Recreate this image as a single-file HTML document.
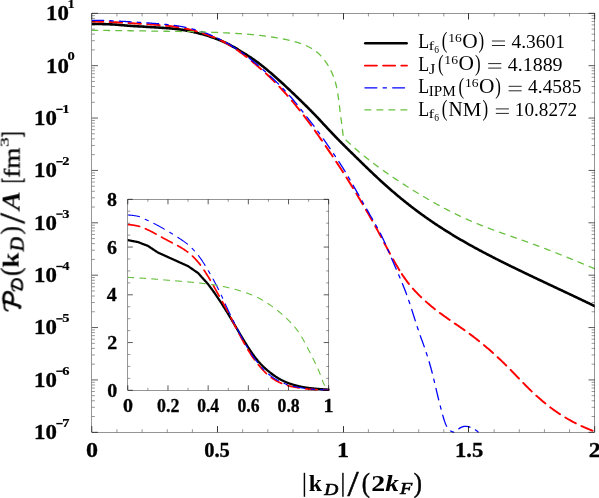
<!DOCTYPE html>
<html><head><meta charset="utf-8"><title>plot</title>
<style>html,body{margin:0;padding:0;background:#fff;}body{width:599px;height:498px;overflow:hidden;font-family:"Liberation Serif",serif;}svg{display:block;}</style>
</head><body>
<svg width="599" height="498" viewBox="0 0 599 498" font-family="Liberation Serif, serif">
<defs>
<clipPath id="cm"><rect x="91.8" y="13.3" width="502.90000000000003" height="419.6"/></clipPath>
<clipPath id="ci"><rect x="127.8" y="197.3" width="201.89999999999998" height="194.5"/></clipPath>
</defs>
<rect width="599" height="498" fill="#fff"/>
<g opacity="0.999">
<g clip-path="url(#cm)" fill="none" stroke-linejoin="round" stroke-linecap="round">
<path d="M91.80,23.85 L92.64,23.87 L93.48,23.89 L94.32,23.91 L95.16,23.92 L96.00,23.94 L96.84,23.96 L97.68,23.98 L98.52,24.00 L99.36,24.01 L100.20,24.03 L101.04,24.05 L101.87,24.07 L102.71,24.09 L103.55,24.11 L104.39,24.14 L105.23,24.16 L106.07,24.19 L106.91,24.22 L107.75,24.24 L108.59,24.28 L109.43,24.31 L110.27,24.35 L111.11,24.38 L111.95,24.42 L112.79,24.47 L113.63,24.51 L114.47,24.56 L115.31,24.62 L116.15,24.67 L116.99,24.73 L117.83,24.80 L118.67,24.86 L119.51,24.93 L120.35,25.01 L121.18,25.08 L122.02,25.15 L122.86,25.23 L123.70,25.31 L124.54,25.38 L125.38,25.46 L126.22,25.53 L127.06,25.61 L127.90,25.68 L128.74,25.75 L129.58,25.81 L130.42,25.88 L131.26,25.94 L132.10,25.99 L132.94,26.05 L133.78,26.10 L134.62,26.15 L135.46,26.20 L136.30,26.25 L137.14,26.29 L137.98,26.34 L138.82,26.39 L139.66,26.43 L140.49,26.48 L141.33,26.53 L142.17,26.57 L143.01,26.62 L143.85,26.67 L144.69,26.73 L145.53,26.78 L146.37,26.83 L147.21,26.88 L148.05,26.94 L148.89,26.99 L149.73,27.04 L150.57,27.10 L151.41,27.15 L152.25,27.21 L153.09,27.26 L153.93,27.31 L154.77,27.36 L155.61,27.42 L156.45,27.47 L157.29,27.52 L158.13,27.57 L158.97,27.62 L159.80,27.67 L160.64,27.73 L161.48,27.78 L162.32,27.83 L163.16,27.89 L164.00,27.94 L164.84,28.00 L165.68,28.06 L166.52,28.12 L167.36,28.18 L168.20,28.25 L169.04,28.32 L169.88,28.39 L170.72,28.46 L171.56,28.54 L172.40,28.61 L173.24,28.70 L174.08,28.78 L174.92,28.87 L175.76,28.97 L176.60,29.06 L177.44,29.17 L178.28,29.27 L179.11,29.38 L179.95,29.50 L180.79,29.62 L181.63,29.75 L182.47,29.88 L183.31,30.01 L184.15,30.15 L184.99,30.30 L185.83,30.45 L186.67,30.60 L187.51,30.76 L188.35,30.93 L189.19,31.09 L190.03,31.26 L190.87,31.44 L191.71,31.62 L192.55,31.81 L193.39,31.99 L194.23,32.19 L195.07,32.38 L195.91,32.58 L196.75,32.79 L197.59,33.00 L198.42,33.21 L199.26,33.43 L200.10,33.65 L200.94,33.87 L201.78,34.10 L202.62,34.34 L203.46,34.58 L204.30,34.82 L205.14,35.07 L205.98,35.32 L206.82,35.58 L207.66,35.84 L208.50,36.10 L209.34,36.37 L210.18,36.65 L211.02,36.93 L211.86,37.21 L212.70,37.50 L213.54,37.80 L214.38,38.10 L215.22,38.41 L216.06,38.73 L216.90,39.05 L217.73,39.37 L218.57,39.70 L219.41,40.04 L220.25,40.39 L221.09,40.74 L221.93,41.10 L222.77,41.47 L223.61,41.84 L224.45,42.22 L225.29,42.61 L226.13,43.01 L226.97,43.42 L227.81,43.84 L228.65,44.26 L229.49,44.70 L230.33,45.14 L231.17,45.59 L232.01,46.05 L232.85,46.52 L233.69,47.00 L234.53,47.48 L235.37,47.97 L236.21,48.47 L237.04,48.97 L237.88,49.48 L238.72,49.99 L239.56,50.50 L240.40,51.02 L241.24,51.54 L242.08,52.06 L242.92,52.58 L243.76,53.10 L244.60,53.62 L245.44,54.15 L246.28,54.68 L247.12,55.21 L247.96,55.74 L248.80,56.28 L249.64,56.83 L250.48,57.38 L251.32,57.93 L252.16,58.50 L253.00,59.07 L253.84,59.64 L254.68,60.23 L255.52,60.83 L256.35,61.43 L257.19,62.05 L258.03,62.67 L258.87,63.30 L259.71,63.94 L260.55,64.59 L261.39,65.24 L262.23,65.90 L263.07,66.57 L263.91,67.25 L264.75,67.93 L265.59,68.62 L266.43,69.31 L267.27,70.01 L268.11,70.71 L268.95,71.42 L269.79,72.13 L270.63,72.84 L271.47,73.56 L272.31,74.29 L273.15,75.02 L273.99,75.75 L274.83,76.48 L275.66,77.22 L276.50,77.97 L277.34,78.71 L278.18,79.47 L279.02,80.22 L279.86,80.98 L280.70,81.74 L281.54,82.50 L282.38,83.27 L283.22,84.04 L284.06,84.82 L284.90,85.59 L285.74,86.37 L286.58,87.16 L287.42,87.94 L288.26,88.73 L289.10,89.52 L289.94,90.31 L290.78,91.10 L291.62,91.89 L292.46,92.69 L293.30,93.49 L294.14,94.29 L294.97,95.09 L295.81,95.89 L296.65,96.70 L297.49,97.51 L298.33,98.32 L299.17,99.13 L300.01,99.94 L300.85,100.76 L301.69,101.57 L302.53,102.40 L303.37,103.22 L304.21,104.05 L305.05,104.88 L305.89,105.71 L306.73,106.54 L307.57,107.38 L308.41,108.22 L309.25,109.07 L310.09,109.92 L310.93,110.77 L311.77,111.63 L312.61,112.48 L313.45,113.35 L314.28,114.22 L315.12,115.09 L315.96,115.96 L316.80,116.84 L317.64,117.73 L318.48,118.62 L319.32,119.51 L320.16,120.41 L321.00,121.31 L321.84,122.21 L322.68,123.11 L323.52,124.02 L324.36,124.92 L325.20,125.83 L326.04,126.73 L326.88,127.64 L327.72,128.54 L328.56,129.44 L329.40,130.34 L330.24,131.23 L331.08,132.12 L331.92,133.01 L332.76,133.89 L333.59,134.76 L334.43,135.63 L335.27,136.50 L336.11,137.37 L336.95,138.23 L337.79,139.09 L338.63,139.94 L339.47,140.79 L340.31,141.64 L341.15,142.49 L341.99,143.33 L342.83,144.17 L343.67,145.01 L344.51,145.84 L345.35,146.68 L346.19,147.51 L347.03,148.34 L347.87,149.17 L348.71,149.99 L349.55,150.82 L350.39,151.64 L351.23,152.47 L352.07,153.29 L352.91,154.11 L353.74,154.93 L354.58,155.76 L355.42,156.58 L356.26,157.40 L357.10,158.22 L357.94,159.04 L358.78,159.86 L359.62,160.68 L360.46,161.50 L361.30,162.32 L362.14,163.13 L362.98,163.95 L363.82,164.77 L364.66,165.58 L365.50,166.40 L366.34,167.21 L367.18,168.02 L368.02,168.83 L368.86,169.64 L369.70,170.44 L370.54,171.25 L371.38,172.05 L372.22,172.85 L373.05,173.65 L373.89,174.44 L374.73,175.23 L375.57,176.02 L376.41,176.81 L377.25,177.60 L378.09,178.38 L378.93,179.16 L379.77,179.93 L380.61,180.70 L381.45,181.47 L382.29,182.24 L383.13,183.00 L383.97,183.76 L384.81,184.52 L385.65,185.27 L386.49,186.02 L387.33,186.76 L388.17,187.50 L389.01,188.24 L389.85,188.98 L390.69,189.71 L391.53,190.44 L392.36,191.16 L393.20,191.88 L394.04,192.60 L394.88,193.31 L395.72,194.03 L396.56,194.73 L397.40,195.44 L398.24,196.14 L399.08,196.84 L399.92,197.53 L400.76,198.22 L401.60,198.91 L402.44,199.60 L403.28,200.28 L404.12,200.96 L404.96,201.63 L405.80,202.30 L406.64,202.97 L407.48,203.64 L408.32,204.30 L409.16,204.96 L410.00,205.61 L410.84,206.26 L411.67,206.91 L412.51,207.56 L413.35,208.20 L414.19,208.84 L415.03,209.48 L415.87,210.11 L416.71,210.74 L417.55,211.36 L418.39,211.99 L419.23,212.61 L420.07,213.22 L420.91,213.84 L421.75,214.45 L422.59,215.05 L423.43,215.66 L424.27,216.26 L425.11,216.85 L425.95,217.45 L426.79,218.04 L427.63,218.63 L428.47,219.22 L429.31,219.80 L430.15,220.38 L430.98,220.96 L431.82,221.53 L432.66,222.10 L433.50,222.67 L434.34,223.23 L435.18,223.80 L436.02,224.36 L436.86,224.92 L437.70,225.47 L438.54,226.02 L439.38,226.57 L440.22,227.12 L441.06,227.66 L441.90,228.20 L442.74,228.74 L443.58,229.28 L444.42,229.81 L445.26,230.35 L446.10,230.87 L446.94,231.40 L447.78,231.93 L448.62,232.45 L449.46,232.97 L450.29,233.48 L451.13,234.00 L451.97,234.51 L452.81,235.02 L453.65,235.53 L454.49,236.04 L455.33,236.54 L456.17,237.04 L457.01,237.54 L457.85,238.04 L458.69,238.53 L459.53,239.03 L460.37,239.52 L461.21,240.01 L462.05,240.49 L462.89,240.98 L463.73,241.46 L464.57,241.94 L465.41,242.42 L466.25,242.90 L467.09,243.37 L467.93,243.85 L468.77,244.32 L469.60,244.79 L470.44,245.26 L471.28,245.72 L472.12,246.19 L472.96,246.65 L473.80,247.11 L474.64,247.57 L475.48,248.03 L476.32,248.49 L477.16,248.94 L478.00,249.40 L478.84,249.85 L479.68,250.30 L480.52,250.75 L481.36,251.20 L482.20,251.64 L483.04,252.09 L483.88,252.53 L484.72,252.97 L485.56,253.42 L486.40,253.85 L487.24,254.29 L488.08,254.73 L488.91,255.17 L489.75,255.60 L490.59,256.03 L491.43,256.47 L492.27,256.90 L493.11,257.33 L493.95,257.76 L494.79,258.18 L495.63,258.61 L496.47,259.04 L497.31,259.46 L498.15,259.88 L498.99,260.31 L499.83,260.73 L500.67,261.15 L501.51,261.57 L502.35,261.99 L503.19,262.41 L504.03,262.83 L504.87,263.24 L505.71,263.66 L506.55,264.08 L507.39,264.49 L508.22,264.90 L509.06,265.32 L509.90,265.73 L510.74,266.14 L511.58,266.55 L512.42,266.97 L513.26,267.38 L514.10,267.79 L514.94,268.19 L515.78,268.60 L516.62,269.01 L517.46,269.42 L518.30,269.82 L519.14,270.23 L519.98,270.64 L520.82,271.04 L521.66,271.45 L522.50,271.85 L523.34,272.25 L524.18,272.66 L525.02,273.06 L525.86,273.46 L526.70,273.87 L527.53,274.27 L528.37,274.67 L529.21,275.07 L530.05,275.47 L530.89,275.87 L531.73,276.27 L532.57,276.67 L533.41,277.07 L534.25,277.47 L535.09,277.87 L535.93,278.26 L536.77,278.66 L537.61,279.06 L538.45,279.46 L539.29,279.85 L540.13,280.25 L540.97,280.65 L541.81,281.04 L542.65,281.44 L543.49,281.84 L544.33,282.23 L545.17,282.63 L546.01,283.02 L546.84,283.42 L547.68,283.82 L548.52,284.21 L549.36,284.61 L550.20,285.00 L551.04,285.40 L551.88,285.79 L552.72,286.19 L553.56,286.58 L554.40,286.98 L555.24,287.37 L556.08,287.77 L556.92,288.16 L557.76,288.56 L558.60,288.95 L559.44,289.35 L560.28,289.74 L561.12,290.14 L561.96,290.53 L562.80,290.93 L563.64,291.32 L564.48,291.72 L565.32,292.11 L566.15,292.51 L566.99,292.90 L567.83,293.30 L568.67,293.70 L569.51,294.09 L570.35,294.49 L571.19,294.89 L572.03,295.28 L572.87,295.68 L573.71,296.08 L574.55,296.48 L575.39,296.88 L576.23,297.27 L577.07,297.67 L577.91,298.07 L578.75,298.47 L579.59,298.87 L580.43,299.27 L581.27,299.67 L582.11,300.07 L582.95,300.47 L583.79,300.87 L584.63,301.28 L585.46,301.68 L586.30,302.08 L587.14,302.48 L587.98,302.89 L588.82,303.29 L589.66,303.70 L590.50,304.10 L591.34,304.51 L592.18,304.91 L593.02,305.32 L593.86,305.73 L594.70,306.14" stroke="#000" stroke-width="2.6"/>
<path d="M91.80,21.61 L92.64,21.61 L93.48,21.61 L94.32,21.62 L95.16,21.62 L96.00,21.63 L96.84,21.64 L97.68,21.65 L98.52,21.67 L99.36,21.68 L100.20,21.70 L101.04,21.72 L101.87,21.74 L102.71,21.76 L103.55,21.78 L104.39,21.81 L105.23,21.83 L106.07,21.86 L106.91,21.89 L107.75,21.92 L108.59,21.95 L109.43,21.99 L110.27,22.02 L111.11,22.06 L111.95,22.10 L112.79,22.13 L113.63,22.17 L114.47,22.21 L115.31,22.26 L116.15,22.30 L116.99,22.34 L117.83,22.39 L118.67,22.44 L119.51,22.48 L120.35,22.53 L121.18,22.58 L122.02,22.63 L122.86,22.68 L123.70,22.73 L124.54,22.78 L125.38,22.83 L126.22,22.89 L127.06,22.94 L127.90,22.99 L128.74,23.05 L129.58,23.10 L130.42,23.16 L131.26,23.21 L132.10,23.27 L132.94,23.32 L133.78,23.38 L134.62,23.43 L135.46,23.49 L136.30,23.54 L137.14,23.60 L137.98,23.65 L138.82,23.71 L139.66,23.76 L140.49,23.82 L141.33,23.87 L142.17,23.92 L143.01,23.98 L143.85,24.03 L144.69,24.08 L145.53,24.14 L146.37,24.19 L147.21,24.24 L148.05,24.30 L148.89,24.35 L149.73,24.40 L150.57,24.46 L151.41,24.51 L152.25,24.57 L153.09,24.62 L153.93,24.68 L154.77,24.74 L155.61,24.80 L156.45,24.86 L157.29,24.92 L158.13,24.98 L158.97,25.04 L159.80,25.11 L160.64,25.17 L161.48,25.24 L162.32,25.31 L163.16,25.39 L164.00,25.46 L164.84,25.54 L165.68,25.62 L166.52,25.70 L167.36,25.78 L168.20,25.87 L169.04,25.96 L169.88,26.05 L170.72,26.15 L171.56,26.25 L172.40,26.35 L173.24,26.46 L174.08,26.57 L174.92,26.68 L175.76,26.80 L176.60,26.93 L177.44,27.06 L178.28,27.19 L179.11,27.33 L179.95,27.47 L180.79,27.62 L181.63,27.77 L182.47,27.93 L183.31,28.09 L184.15,28.26 L184.99,28.43 L185.83,28.61 L186.67,28.79 L187.51,28.98 L188.35,29.18 L189.19,29.38 L190.03,29.58 L190.87,29.79 L191.71,30.01 L192.55,30.23 L193.39,30.46 L194.23,30.69 L195.07,30.93 L195.91,31.17 L196.75,31.42 L197.59,31.67 L198.42,31.92 L199.26,32.18 L200.10,32.45 L200.94,32.71 L201.78,32.98 L202.62,33.26 L203.46,33.53 L204.30,33.81 L205.14,34.09 L205.98,34.38 L206.82,34.66 L207.66,34.95 L208.50,35.24 L209.34,35.54 L210.18,35.85 L211.02,36.15 L211.86,36.47 L212.70,36.79 L213.54,37.12 L214.38,37.46 L215.22,37.80 L216.06,38.15 L216.90,38.52 L217.73,38.89 L218.57,39.27 L219.41,39.66 L220.25,40.07 L221.09,40.48 L221.93,40.90 L222.77,41.33 L223.61,41.78 L224.45,42.23 L225.29,42.68 L226.13,43.15 L226.97,43.63 L227.81,44.11 L228.65,44.61 L229.49,45.11 L230.33,45.62 L231.17,46.14 L232.01,46.66 L232.85,47.20 L233.69,47.74 L234.53,48.29 L235.37,48.85 L236.21,49.41 L237.04,49.98 L237.88,50.56 L238.72,51.15 L239.56,51.75 L240.40,52.35 L241.24,52.96 L242.08,53.58 L242.92,54.21 L243.76,54.84 L244.60,55.48 L245.44,56.13 L246.28,56.78 L247.12,57.44 L247.96,58.10 L248.80,58.78 L249.64,59.45 L250.48,60.13 L251.32,60.82 L252.16,61.51 L253.00,62.21 L253.84,62.91 L254.68,63.61 L255.52,64.32 L256.35,65.03 L257.19,65.74 L258.03,66.46 L258.87,67.18 L259.71,67.90 L260.55,68.63 L261.39,69.37 L262.23,70.11 L263.07,70.86 L263.91,71.61 L264.75,72.37 L265.59,73.13 L266.43,73.91 L267.27,74.69 L268.11,75.47 L268.95,76.27 L269.79,77.07 L270.63,77.88 L271.47,78.70 L272.31,79.52 L273.15,80.35 L273.99,81.19 L274.83,82.04 L275.66,82.89 L276.50,83.75 L277.34,84.62 L278.18,85.49 L279.02,86.37 L279.86,87.26 L280.70,88.15 L281.54,89.06 L282.38,89.96 L283.22,90.88 L284.06,91.80 L284.90,92.73 L285.74,93.66 L286.58,94.60 L287.42,95.55 L288.26,96.51 L289.10,97.47 L289.94,98.45 L290.78,99.43 L291.62,100.42 L292.46,101.41 L293.30,102.42 L294.14,103.43 L294.97,104.45 L295.81,105.48 L296.65,106.52 L297.49,107.56 L298.33,108.61 L299.17,109.67 L300.01,110.74 L300.85,111.81 L301.69,112.89 L302.53,113.98 L303.37,115.07 L304.21,116.17 L305.05,117.28 L305.89,118.39 L306.73,119.51 L307.57,120.63 L308.41,121.77 L309.25,122.90 L310.09,124.04 L310.93,125.19 L311.77,126.35 L312.61,127.50 L313.45,128.67 L314.28,129.84 L315.12,131.01 L315.96,132.19 L316.80,133.37 L317.64,134.56 L318.48,135.75 L319.32,136.95 L320.16,138.15 L321.00,139.35 L321.84,140.56 L322.68,141.77 L323.52,142.99 L324.36,144.21 L325.20,145.43 L326.04,146.65 L326.88,147.88 L327.72,149.11 L328.56,150.35 L329.40,151.59 L330.24,152.83 L331.08,154.07 L331.92,155.32 L332.76,156.57 L333.59,157.82 L334.43,159.07 L335.27,160.33 L336.11,161.59 L336.95,162.86 L337.79,164.13 L338.63,165.41 L339.47,166.69 L340.31,167.97 L341.15,169.27 L341.99,170.56 L342.83,171.87 L343.67,173.18 L344.51,174.49 L345.35,175.81 L346.19,177.14 L347.03,178.48 L347.87,179.82 L348.71,181.16 L349.55,182.51 L350.39,183.87 L351.23,185.23 L352.07,186.59 L352.91,187.96 L353.74,189.34 L354.58,190.71 L355.42,192.10 L356.26,193.48 L357.10,194.87 L357.94,196.27 L358.78,197.67 L359.62,199.07 L360.46,200.48 L361.30,201.89 L362.14,203.31 L362.98,204.73 L363.82,206.16 L364.66,207.59 L365.50,209.03 L366.34,210.48 L367.18,211.92 L368.02,213.38 L368.86,214.84 L369.70,216.31 L370.54,217.79 L371.38,219.27 L372.22,220.75 L373.05,222.25 L373.89,223.75 L374.73,225.26 L375.57,226.77 L376.41,228.30 L377.25,229.83 L378.09,231.37 L378.93,232.91 L379.77,234.47 L380.61,236.03 L381.45,237.60 L382.29,239.18 L383.13,240.76 L383.97,242.35 L384.81,243.94 L385.65,245.53 L386.49,247.12 L387.33,248.70 L388.17,250.28 L389.01,251.86 L389.85,253.42 L390.69,254.98 L391.53,256.52 L392.36,258.05 L393.20,259.57 L394.04,261.06 L394.88,262.54 L395.72,264.00 L396.56,265.45 L397.40,266.87 L398.24,268.27 L399.08,269.64 L399.92,271.00" stroke="#f00" stroke-width="1.95" stroke-dasharray="12.43 6.42" stroke-dashoffset="1.0"/>
<path d="M399.92,271.00 L400.76,272.33 L401.60,273.63 L402.44,274.92 L403.28,276.17 L404.12,277.40 L404.96,278.60 L405.80,279.78 L406.64,280.92 L407.48,282.04 L408.32,283.13 L409.16,284.20 L410.00,285.23 L410.84,286.25 L411.67,287.24 L412.51,288.21 L413.35,289.16 L414.19,290.09 L415.03,291.01 L415.87,291.90 L416.71,292.78 L417.55,293.65 L418.39,294.50 L419.23,295.34 L420.07,296.17 L420.91,296.98 L421.75,297.79 L422.59,298.58 L423.43,299.36 L424.27,300.13 L425.11,300.89 L425.95,301.65 L426.79,302.39 L427.63,303.12 L428.47,303.84 L429.31,304.56 L430.15,305.26 L430.98,305.96 L431.82,306.65 L432.66,307.33 L433.50,308.01 L434.34,308.67 L435.18,309.33 L436.02,309.99 L436.86,310.63 L437.70,311.28 L438.54,311.91 L439.38,312.54 L440.22,313.16 L441.06,313.78 L441.90,314.40 L442.74,315.01 L443.58,315.62 L444.42,316.22 L445.26,316.82 L446.10,317.41 L446.94,318.01 L447.78,318.60 L448.62,319.18 L449.46,319.77 L450.29,320.35 L451.13,320.93 L451.97,321.51 L452.81,322.09 L453.65,322.67 L454.49,323.25 L455.33,323.83 L456.17,324.40 L457.01,324.98 L457.85,325.56 L458.69,326.14 L459.53,326.72 L460.37,327.30 L461.21,327.89 L462.05,328.47 L462.89,329.06 L463.73,329.65 L464.57,330.24 L465.41,330.84 L466.25,331.44 L467.09,332.04 L467.93,332.65 L468.77,333.26 L469.60,333.88 L470.44,334.50 L471.28,335.13 L472.12,335.76 L472.96,336.39 L473.80,337.03 L474.64,337.67 L475.48,338.32 L476.32,338.98 L477.16,339.63 L478.00,340.30 L478.84,340.96 L479.68,341.64 L480.52,342.31 L481.36,343.00 L482.20,343.68 L483.04,344.37 L483.88,345.07 L484.72,345.77 L485.56,346.48 L486.40,347.19 L487.24,347.90 L488.08,348.63 L488.91,349.35 L489.75,350.08 L490.59,350.82 L491.43,351.56 L492.27,352.31 L493.11,353.06 L493.95,353.81 L494.79,354.57 L495.63,355.34 L496.47,356.11 L497.31,356.89 L498.15,357.67 L498.99,358.46 L499.83,359.25 L500.67,360.05 L501.51,360.85 L502.35,361.66 L503.19,362.47 L504.03,363.29 L504.87,364.11 L505.71,364.94 L506.55,365.78 L507.39,366.62 L508.22,367.46 L509.06,368.31 L509.90,369.17 L510.74,370.02 L511.58,370.88 L512.42,371.75 L513.26,372.61 L514.10,373.48 L514.94,374.35 L515.78,375.22 L516.62,376.09 L517.46,376.96 L518.30,377.83 L519.14,378.71 L519.98,379.57 L520.82,380.44 L521.66,381.31 L522.50,382.17 L523.34,383.03 L524.18,383.89 L525.02,384.75 L525.86,385.60 L526.70,386.44 L527.53,387.28 L528.37,388.12 L529.21,388.95 L530.05,389.77 L530.89,390.59 L531.73,391.40 L532.57,392.20 L533.41,392.99 L534.25,393.78 L535.09,394.56 L535.93,395.33 L536.77,396.09 L537.61,396.85 L538.45,397.60 L539.29,398.34 L540.13,399.07 L540.97,399.80 L541.81,400.52 L542.65,401.23 L543.49,401.93 L544.33,402.62 L545.17,403.31 L546.01,403.99 L546.84,404.66 L547.68,405.33 L548.52,405.99 L549.36,406.63 L550.20,407.28 L551.04,407.91 L551.88,408.54 L552.72,409.16 L553.56,409.77 L554.40,410.37 L555.24,410.97 L556.08,411.55 L556.92,412.13 L557.76,412.71 L558.60,413.27 L559.44,413.83 L560.28,414.38 L561.12,414.92 L561.96,415.46 L562.80,415.99 L563.64,416.51 L564.48,417.02 L565.32,417.53 L566.15,418.03 L566.99,418.52 L567.83,419.01 L568.67,419.49 L569.51,419.96 L570.35,420.43 L571.19,420.89 L572.03,421.35 L572.87,421.79 L573.71,422.24 L574.55,422.67 L575.39,423.10 L576.23,423.52 L577.07,423.94 L577.91,424.35 L578.75,424.76 L579.59,425.16 L580.43,425.56 L581.27,425.95 L582.11,426.33 L582.95,426.71 L583.79,427.08 L584.63,427.45 L585.46,427.81 L586.30,428.17 L587.14,428.52 L587.98,428.87 L588.82,429.21 L589.66,429.55 L590.50,429.89 L591.34,430.22 L592.18,430.54 L593.02,430.86 L593.86,431.18 L594.70,431.49" stroke="#f00" stroke-width="1.95" stroke-dasharray="12.0 6.2" stroke-dashoffset="14.5"/>
<path d="M91.80,20.33 L92.23,20.33 L92.67,20.34 L93.10,20.34 L93.53,20.34 L93.96,20.34 L94.40,20.34 L94.83,20.35 L95.26,20.35 L95.70,20.35 L96.13,20.36 L96.56,20.36 L97.00,20.37 L97.43,20.37 L97.86,20.38 L98.29,20.38 L98.73,20.39 L99.16,20.40 L99.59,20.40 L100.03,20.41 L100.46,20.42 L100.89,20.43 L101.32,20.43 L101.76,20.44 L102.19,20.45 L102.62,20.46 L103.06,20.46 L103.49,20.47 L103.92,20.48 L104.35,20.49 L104.79,20.50 L105.22,20.51 L105.65,20.52 L106.09,20.53 L106.52,20.55 L106.95,20.56 L107.39,20.58 L107.82,20.60 L108.25,20.61 L108.68,20.63 L109.12,20.65 L109.55,20.67 L109.98,20.69 L110.42,20.71 L110.85,20.74 L111.28,20.76 L111.71,20.78 L112.15,20.80 L112.58,20.83 L113.01,20.85 L113.45,20.87 L113.88,20.90 L114.31,20.92 L114.75,20.94 L115.18,20.97 L115.61,20.99 L116.04,21.01 L116.48,21.03 L116.91,21.06 L117.34,21.08 L117.78,21.10 L118.21,21.12 L118.64,21.14 L119.07,21.17 L119.51,21.19 L119.94,21.21 L120.37,21.23 L120.81,21.25 L121.24,21.28 L121.67,21.30 L122.10,21.32 L122.54,21.35 L122.97,21.37 L123.40,21.39 L123.84,21.42 L124.27,21.44 L124.70,21.47 L125.14,21.49 L125.57,21.51 L126.00,21.54 L126.43,21.56 L126.87,21.59 L127.30,21.61 L127.73,21.64 L128.17,21.66 L128.60,21.69 L129.03,21.71 L129.46,21.74 L129.90,21.76 L130.33,21.79 L130.76,21.81 L131.20,21.84 L131.63,21.87 L132.06,21.89 L132.49,21.92 L132.93,21.95 L133.36,21.97 L133.79,22.00 L134.23,22.03 L134.66,22.06 L135.09,22.08 L135.53,22.11 L135.96,22.14 L136.39,22.17 L136.82,22.19 L137.26,22.22 L137.69,22.25 L138.12,22.28 L138.56,22.31 L138.99,22.34 L139.42,22.37 L139.85,22.39 L140.29,22.42 L140.72,22.45 L141.15,22.48 L141.59,22.51 L142.02,22.54 L142.45,22.57 L142.89,22.60 L143.32,22.63 L143.75,22.66 L144.18,22.69 L144.62,22.72 L145.05,22.75 L145.48,22.78 L145.92,22.81 L146.35,22.84 L146.78,22.87 L147.21,22.90 L147.65,22.93 L148.08,22.96 L148.51,22.99 L148.95,23.02 L149.38,23.05 L149.81,23.08 L150.24,23.12 L150.68,23.15 L151.11,23.18 L151.54,23.21 L151.98,23.24 L152.41,23.28 L152.84,23.31 L153.28,23.34 L153.71,23.38 L154.14,23.41 L154.57,23.44 L155.01,23.48 L155.44,23.51 L155.87,23.55 L156.31,23.58 L156.74,23.61 L157.17,23.65 L157.60,23.68 L158.04,23.72 L158.47,23.75 L158.90,23.79 L159.34,23.82 L159.77,23.86 L160.20,23.89 L160.64,23.93 L161.07,23.96 L161.50,24.00 L161.93,24.04 L162.37,24.08 L162.80,24.11 L163.23,24.15 L163.67,24.19 L164.10,24.23 L164.53,24.27 L164.96,24.31 L165.40,24.36 L165.83,24.40 L166.26,24.44 L166.70,24.49 L167.13,24.53 L167.56,24.58 L167.99,24.63 L168.43,24.67 L168.86,24.72 L169.29,24.77 L169.73,24.82 L170.16,24.87 L170.59,24.92 L171.03,24.98 L171.46,25.03 L171.89,25.09 L172.32,25.14 L172.76,25.20 L173.19,25.25 L173.62,25.31 L174.06,25.37 L174.49,25.43 L174.92,25.49 L175.35,25.55 L175.79,25.62 L176.22,25.68 L176.65,25.75 L177.09,25.81 L177.52,25.88 L177.95,25.95 L178.39,26.01 L178.82,26.08 L179.25,26.15 L179.68,26.23 L180.12,26.30 L180.55,26.37 L180.98,26.45 L181.42,26.53 L181.85,26.61 L182.28,26.69 L182.71,26.77 L183.15,26.86 L183.58,26.94 L184.01,27.03 L184.45,27.12 L184.88,27.21 L185.31,27.31 L185.74,27.40 L186.18,27.50 L186.61,27.59 L187.04,27.69 L187.48,27.79 L187.91,27.89 L188.34,27.99 L188.78,28.09 L189.21,28.19 L189.64,28.30 L190.07,28.40 L190.51,28.51 L190.94,28.62 L191.37,28.72 L191.81,28.83 L192.24,28.94 L192.67,29.05 L193.10,29.16 L193.54,29.27 L193.97,29.39 L194.40,29.50 L194.84,29.62 L195.27,29.73 L195.70,29.85 L196.14,29.97 L196.57,30.10 L197.00,30.22 L197.43,30.35 L197.87,30.47 L198.30,30.60 L198.73,30.73 L199.17,30.86 L199.60,30.99 L200.03,31.13 L200.46,31.26 L200.90,31.40 L201.33,31.54 L201.76,31.68 L202.20,31.82 L202.63,31.96 L203.06,32.11 L203.49,32.26 L203.93,32.40 L204.36,32.55 L204.79,32.71 L205.23,32.86 L205.66,33.02 L206.09,33.18 L206.53,33.34 L206.96,33.51 L207.39,33.67 L207.82,33.85 L208.26,34.02 L208.69,34.19 L209.12,34.37 L209.56,34.55 L209.99,34.74 L210.42,34.92 L210.85,35.11 L211.29,35.30 L211.72,35.49 L212.15,35.68 L212.59,35.87 L213.02,36.07 L213.45,36.27 L213.88,36.46 L214.32,36.66 L214.75,36.87 L215.18,37.07 L215.62,37.27 L216.05,37.47 L216.48,37.68 L216.92,37.89 L217.35,38.09 L217.78,38.30 L218.21,38.51 L218.65,38.72 L219.08,38.93 L219.51,39.15 L219.95,39.36 L220.38,39.58 L220.81,39.80 L221.24,40.02 L221.68,40.24 L222.11,40.47 L222.54,40.70 L222.98,40.93 L223.41,41.16 L223.84,41.39 L224.28,41.62 L224.71,41.86 L225.14,42.09 L225.57,42.33 L226.01,42.57 L226.44,42.82 L226.87,43.06 L227.31,43.30 L227.74,43.55 L228.17,43.80 L228.60,44.05 L229.04,44.30 L229.47,44.55 L229.90,44.81 L230.34,45.07 L230.77,45.32 L231.20,45.58 L231.63,45.85 L232.07,46.11 L232.50,46.38 L232.93,46.65 L233.37,46.92 L233.80,47.19 L234.23,47.47 L234.67,47.75 L235.10,48.03 L235.53,48.31 L235.96,48.59 L236.40,48.88 L236.83,49.16 L237.26,49.45 L237.70,49.74 L238.13,50.04 L238.56,50.33 L238.99,50.63 L239.43,50.93 L239.86,51.22 L240.29,51.53 L240.73,51.83 L241.16,52.13 L241.59,52.44 L242.03,52.75 L242.46,53.06 L242.89,53.37 L243.32,53.68 L243.76,54.00 L244.19,54.31 L244.62,54.64 L245.06,54.96 L245.49,55.29 L245.92,55.62 L246.35,55.95 L246.79,56.28 L247.22,56.62 L247.65,56.96 L248.09,57.29 L248.52,57.64 L248.95,57.98 L249.38,58.32 L249.82,58.67 L250.25,59.02 L250.68,59.37 L251.12,59.72 L251.55,60.07 L251.98,60.42 L252.42,60.77 L252.85,61.13 L253.28,61.48 L253.71,61.84 L254.15,62.19 L254.58,62.55 L255.01,62.91 L255.45,63.27 L255.88,63.62 L256.31,63.98 L256.74,64.34 L257.18,64.71 L257.61,65.07 L258.04,65.44 L258.48,65.80 L258.91,66.17 L259.34,66.54 L259.78,66.91 L260.21,67.28 L260.64,67.65 L261.07,68.03 L261.51,68.40 L261.94,68.78 L262.37,69.16 L262.81,69.54 L263.24,69.92 L263.67,70.30 L264.10,70.68 L264.54,71.06 L264.97,71.45 L265.40,71.83 L265.84,72.22 L266.27,72.61 L266.70,73.00 L267.13,73.39 L267.57,73.78 L268.00,74.17 L268.43,74.56 L268.87,74.95 L269.30,75.35 L269.73,75.74 L270.17,76.14 L270.60,76.53 L271.03,76.93 L271.46,77.33 L271.90,77.73 L272.33,78.13 L272.76,78.53 L273.20,78.93 L273.63,79.34 L274.06,79.74 L274.49,80.15 L274.93,80.56 L275.36,80.97 L275.79,81.38 L276.23,81.80 L276.66,82.22 L277.09,82.64 L277.53,83.06 L277.96,83.48 L278.39,83.91 L278.82,84.33 L279.26,84.76 L279.69,85.20 L280.12,85.63 L280.56,86.07 L280.99,86.51 L281.42,86.95 L281.85,87.40 L282.29,87.85 L282.72,88.30 L283.15,88.75 L283.59,89.20 L284.02,89.66 L284.45,90.12 L284.88,90.58 L285.32,91.05 L285.75,91.51 L286.18,91.98 L286.62,92.45 L287.05,92.92 L287.48,93.40 L287.92,93.88 L288.35,94.36 L288.78,94.84 L289.21,95.32 L289.65,95.81 L290.08,96.30 L290.51,96.79 L290.95,97.28 L291.38,97.77 L291.81,98.27 L292.24,98.77 L292.68,99.27 L293.11,99.78 L293.54,100.28 L293.98,100.79 L294.41,101.31 L294.84,101.83 L295.27,102.35 L295.71,102.88 L296.14,103.41 L296.57,103.94 L297.01,104.47 L297.44,105.01 L297.87,105.55 L298.31,106.09 L298.74,106.64 L299.17,107.18 L299.60,107.73 L300.04,108.28 L300.47,108.83 L300.90,109.38 L301.34,109.94 L301.77,110.49 L302.20,111.04 L302.63,111.60 L303.07,112.15 L303.50,112.71 L303.93,113.26 L304.37,113.81 L304.80,114.37 L305.23,114.92 L305.67,115.47 L306.10,116.02 L306.53,116.57 L306.96,117.12 L307.40,117.67 L307.83,118.22 L308.26,118.77 L308.70,119.32 L309.13,119.87 L309.56,120.43 L309.99,120.98 L310.43,121.53 L310.86,122.09 L311.29,122.64 L311.73,123.20 L312.16,123.75 L312.59,124.31 L313.02,124.87 L313.46,125.44 L313.89,126.00 L314.32,126.57 L314.76,127.13 L315.19,127.70 L315.62,128.27 L316.06,128.85 L316.49,129.43 L316.92,130.00 L317.35,130.59 L317.79,131.17 L318.22,131.76 L318.65,132.35 L319.09,132.94 L319.52,133.53 L319.95,134.13 L320.38,134.73 L320.82,135.33 L321.25,135.94 L321.68,136.54 L322.12,137.15 L322.55,137.76 L322.98,138.37 L323.42,138.99 L323.85,139.60 L324.28,140.22 L324.71,140.84 L325.15,141.46 L325.58,142.08 L326.01,142.71 L326.45,143.33 L326.88,143.96 L327.31,144.59 L327.74,145.22 L328.18,145.85 L328.61,146.48 L329.04,147.11 L329.48,147.74 L329.91,148.37 L330.34,149.01 L330.77,149.64 L331.21,150.28 L331.64,150.91 L332.07,151.55 L332.51,152.18 L332.94,152.82 L333.37,153.46 L333.81,154.09 L334.24,154.73 L334.67,155.37 L335.10,156.01 L335.54,156.65 L335.97,157.30 L336.40,157.94 L336.84,158.59 L337.27,159.24 L337.70,159.89 L338.13,160.55 L338.57,161.20 L339.00,161.86 L339.43,162.52 L339.87,163.19 L340.30,163.86 L340.73,164.53 L341.17,165.20 L341.60,165.88 L342.03,166.56 L342.46,167.25 L342.90,167.93 L343.33,168.63 L343.76,169.33 L344.20,170.03 L344.63,170.74 L345.06,171.45 L345.49,172.17 L345.93,172.89 L346.36,173.62 L346.79,174.35 L347.23,175.08 L347.66,175.82 L348.09,176.56 L348.52,177.30 L348.96,178.05 L349.39,178.80 L349.82,179.54 L350.26,180.30 L350.69,181.05 L351.12,181.80 L351.56,182.56 L351.99,183.31 L352.42,184.07 L352.85,184.83 L353.29,185.58 L353.72,186.34 L354.15,187.09 L354.59,187.85 L355.02,188.60 L355.45,189.36 L355.88,190.11 L356.32,190.86 L356.75,191.61 L357.18,192.36 L357.62,193.12 L358.05,193.87 L358.48,194.63 L358.92,195.38 L359.35,196.14 L359.78,196.90 L360.21,197.66 L360.65,198.42 L361.08,199.18 L361.51,199.94 L361.95,200.70 L362.38,201.46 L362.81,202.22 L363.24,202.99 L363.68,203.75 L364.11,204.52 L364.54,205.28 L364.98,206.05 L365.41,206.81 L365.84,207.58 L366.27,208.34 L366.71,209.11 L367.14,209.88 L367.57,210.64 L368.01,211.41 L368.44,212.18 L368.87,212.94 L369.31,213.70 L369.74,214.46 L370.17,215.21 L370.60,215.96 L371.04,216.71 L371.47,217.46 L371.90,218.20 L372.34,218.95 L372.77,219.69 L373.20,220.44 L373.63,221.18 L374.07,221.93 L374.50,222.68 L374.93,223.44 L375.37,224.20 L375.80,224.96 L376.23,225.73 L376.66,226.50 L377.10,227.28 L377.53,228.06 L377.96,228.85 L378.40,229.65 L378.83,230.46 L379.26,231.28 L379.70,232.11 L380.13,232.95 L380.56,233.79 L380.99,234.65 L381.43,235.53 L381.86,236.41 L382.29,237.31 L382.73,238.22 L383.16,239.14 L383.59,240.07 L384.02,241.01 L384.46,241.96 L384.89,242.92 L385.32,243.89 L385.76,244.86 L386.19,245.84 L386.62,246.83 L387.06,247.83 L387.49,248.83 L387.92,249.83 L388.35,250.84 L388.79,251.85 L389.22,252.86 L389.65,253.88 L390.09,254.90 L390.52,255.92 L390.95,256.93 L391.38,257.95 L391.82,258.97 L392.25,259.99 L392.68,261.00 L393.12,262.01 L393.55,263.02 L393.98,264.03 L394.41,265.03 L394.85,266.03 L395.28,267.02 L395.71,268.02 L396.15,269.01 L396.58,270.00 L397.01,271.00 L397.45,271.99 L397.88,272.99 L398.31,273.99 L398.74,274.99 L399.18,276.00 L399.61,277.01 L400.04,278.02 L400.48,279.04 L400.91,280.07 L401.34,281.10 L401.77,282.14 L402.21,283.19 L402.64,284.25 L403.07,285.31 L403.51,286.39 L403.94,287.47 L404.37,288.57 L404.81,289.68 L405.24,290.80 L405.67,291.93 L406.10,293.08 L406.54,294.24 L406.97,295.43 L407.40,296.64 L407.84,297.86 L408.27,299.11 L408.70,300.37 L409.13,301.65 L409.57,302.94 L410.00,304.24 L410.43,305.56 L410.87,306.89 L411.30,308.22 L411.73,309.57 L412.16,310.92 L412.60,312.28 L413.03,313.64 L413.46,315.00 L413.90,316.36 L414.33,317.73 L414.76,319.09 L415.20,320.45 L415.63,321.81 L416.06,323.16 L416.49,324.50 L416.93,325.84 L417.36,327.17 L417.79,328.49 L418.23,329.79 L418.66,331.09 L419.09,332.37 L419.52,333.63 L419.96,334.88 L420.39,336.10 L420.82,337.30 L421.26,338.48 L421.69,339.65 L422.12,340.81 L422.56,341.98 L422.99,343.16 L423.42,344.36 L423.85,345.59 L424.29,346.85 L424.72,348.12 L425.15,349.39 L425.59,350.68 L426.02,351.97 L426.45,353.28 L426.88,354.61 L427.32,355.95 L427.75,357.31 L428.18,358.69 L428.62,360.09 L429.05,361.52 L429.48,362.97 L429.91,364.46 L430.35,365.97 L430.78,367.53 L431.21,369.13 L431.65,370.77 L432.08,372.44 L432.51,374.14 L432.95,375.87 L433.38,377.62 L433.81,379.40 L434.24,381.19 L434.68,382.99 L435.11,384.81 L435.54,386.63 L435.98,388.46 L436.41,390.28 L436.84,392.11 L437.27,393.92 L437.71,395.73 L438.14,397.53 L438.57,399.30 L439.01,401.06 L439.44,402.79 L439.87,404.50 L440.31,406.20 L440.74,407.91 L441.17,409.62 L441.60,411.29 L442.04,412.90 L442.47,414.40 L442.90,415.84 L443.34,417.27 L443.77,418.69 L444.20,420.07 L444.63,421.39 L445.07,422.64 L445.50,423.79 L445.93,424.84 L446.37,425.75 L446.80,426.54 L447.23,427.29 L447.66,427.99 L448.10,428.64 L448.53,429.22 L448.96,429.74 L449.40,430.17 L449.83,430.52 L450.26,430.80 L450.70,431.04 L451.13,431.25 L451.56,431.43 L451.99,431.60 L452.43,431.77 L452.86,431.94 L453.29,432.08 L453.73,432.15 L454.16,432.10 L454.59,431.91 L455.02,431.66 L455.46,431.39 L455.89,431.12 L456.32,430.80 L456.76,430.44 L457.19,430.07 L457.62,429.69 L458.05,429.33 L458.49,429.01 L458.92,428.71 L459.35,428.41 L459.79,428.12 L460.22,427.84 L460.65,427.59 L461.09,427.37 L461.52,427.19 L461.95,427.04 L462.38,426.88 L462.82,426.74 L463.25,426.60 L463.68,426.49 L464.12,426.40 L464.55,426.33 L464.98,426.30 L465.41,426.30 L465.85,426.33 L466.28,426.36 L466.71,426.41 L467.15,426.47 L467.58,426.53 L468.01,426.60 L468.45,426.69 L468.88,426.82 L469.31,426.98 L469.74,427.15 L470.18,427.33 L470.61,427.50 L471.04,427.68 L471.48,427.87 L471.91,428.07 L472.34,428.28 L472.77,428.49 L473.21,428.70 L473.64,428.92 L474.07,429.13 L474.51,429.36 L474.94,429.60 L475.37,429.86 L475.80,430.14 L476.24,430.43 L476.67,430.75 L477.10,431.10 L477.54,431.46 L477.97,431.86 L478.40,432.29 L478.84,432.76 L479.27,433.30 L479.70,433.91 L480.13,434.56 L480.57,435.26 L481.00,436.00" stroke="#00f" stroke-width="1.3" stroke-dasharray="11.84 6.165 3.38 6.165"/>
<path d="M91.80,30.33 L92.33,30.33 L92.87,30.34 L93.40,30.34 L93.93,30.35 L94.47,30.35 L95.00,30.35 L95.53,30.36 L96.07,30.36 L96.60,30.37 L97.14,30.37 L97.67,30.38 L98.20,30.38 L98.74,30.39 L99.27,30.39 L99.80,30.40 L100.34,30.40 L100.87,30.41 L101.40,30.41 L101.94,30.42 L102.47,30.42 L103.00,30.43 L103.54,30.43 L104.07,30.44 L104.61,30.44 L105.14,30.45 L105.67,30.45 L106.21,30.46 L106.74,30.46 L107.27,30.47 L107.81,30.47 L108.34,30.48 L108.87,30.48 L109.41,30.49 L109.94,30.49 L110.47,30.50 L111.01,30.51 L111.54,30.51 L112.07,30.52 L112.61,30.52 L113.14,30.53 L113.68,30.53 L114.21,30.54 L114.74,30.55 L115.28,30.55 L115.81,30.56 L116.34,30.56 L116.88,30.57 L117.41,30.58 L117.94,30.58 L118.48,30.59 L119.01,30.59 L119.54,30.60 L120.08,30.61 L120.61,30.61 L121.14,30.62 L121.68,30.63 L122.21,30.63 L122.75,30.64 L123.28,30.65 L123.81,30.66 L124.35,30.66 L124.88,30.67 L125.41,30.68 L125.95,30.68 L126.48,30.69 L127.01,30.70 L127.55,30.71 L128.08,30.71 L128.61,30.72 L129.15,30.73 L129.68,30.74 L130.21,30.74 L130.75,30.75 L131.28,30.76 L131.81,30.77 L132.35,30.78 L132.88,30.78 L133.42,30.79 L133.95,30.80 L134.48,30.81 L135.02,30.81 L135.55,30.82 L136.08,30.83 L136.62,30.84 L137.15,30.84 L137.68,30.85 L138.22,30.86 L138.75,30.87 L139.28,30.87 L139.82,30.88 L140.35,30.89 L140.88,30.90 L141.42,30.90 L141.95,30.91 L142.49,30.92 L143.02,30.93 L143.55,30.93 L144.09,30.94 L144.62,30.95 L145.15,30.96 L145.69,30.96 L146.22,30.97 L146.75,30.98 L147.29,30.98 L147.82,30.99 L148.35,31.00 L148.89,31.00 L149.42,31.01 L149.95,31.02 L150.49,31.03 L151.02,31.03 L151.56,31.04 L152.09,31.05 L152.62,31.05 L153.16,31.06 L153.69,31.07 L154.22,31.08 L154.76,31.08 L155.29,31.09 L155.82,31.10 L156.36,31.10 L156.89,31.11 L157.42,31.12 L157.96,31.13 L158.49,31.13 L159.02,31.14 L159.56,31.15 L160.09,31.16 L160.62,31.16 L161.16,31.17 L161.69,31.18 L162.23,31.19 L162.76,31.19 L163.29,31.20 L163.83,31.21 L164.36,31.22 L164.89,31.23 L165.43,31.23 L165.96,31.24 L166.49,31.25 L167.03,31.26 L167.56,31.27 L168.09,31.28 L168.63,31.28 L169.16,31.29 L169.69,31.30 L170.23,31.31 L170.76,31.32 L171.29,31.33 L171.83,31.34 L172.36,31.34 L172.90,31.35 L173.43,31.36 L173.96,31.37 L174.50,31.38 L175.03,31.39 L175.56,31.40 L176.10,31.41 L176.63,31.42 L177.16,31.43 L177.70,31.43 L178.23,31.44 L178.76,31.45 L179.30,31.46 L179.83,31.47 L180.36,31.48 L180.90,31.49 L181.43,31.50 L181.96,31.51 L182.50,31.52 L183.03,31.53 L183.57,31.54 L184.10,31.55 L184.63,31.56 L185.17,31.57 L185.70,31.58 L186.23,31.59 L186.77,31.60 L187.30,31.61 L187.83,31.62 L188.37,31.63 L188.90,31.65 L189.43,31.66 L189.97,31.67 L190.50,31.68 L191.03,31.69 L191.57,31.70 L192.10,31.71 L192.63,31.72 L193.17,31.73 L193.70,31.75 L194.23,31.76 L194.77,31.77 L195.30,31.78 L195.83,31.79 L196.37,31.80 L196.90,31.82 L197.43,31.83 L197.97,31.84 L198.50,31.85 L199.04,31.87 L199.57,31.88 L200.10,31.89 L200.64,31.91 L201.17,31.92 L201.70,31.93 L202.24,31.95 L202.77,31.96 L203.30,31.98 L203.84,31.99 L204.37,32.01 L204.90,32.02 L205.44,32.04 L205.97,32.06 L206.50,32.07 L207.04,32.09 L207.57,32.11 L208.10,32.13 L208.63,32.15 L209.17,32.17 L209.70,32.18 L210.23,32.20 L210.77,32.22 L211.30,32.25 L211.83,32.27 L212.37,32.29 L212.90,32.31 L213.43,32.33 L213.97,32.35 L214.50,32.37 L215.03,32.39 L215.57,32.42 L216.10,32.44 L216.63,32.46 L217.17,32.48 L217.70,32.50 L218.23,32.53 L218.76,32.55 L219.30,32.57 L219.83,32.59 L220.36,32.62 L220.90,32.64 L221.43,32.67 L221.96,32.69 L222.50,32.71 L223.03,32.74 L223.56,32.76 L224.10,32.79 L224.63,32.81 L225.16,32.84 L225.69,32.86 L226.23,32.89 L226.76,32.92 L227.29,32.94 L227.83,32.97 L228.36,33.00 L228.89,33.02 L229.42,33.05 L229.96,33.08 L230.49,33.11 L231.02,33.14 L231.56,33.17 L232.09,33.19 L232.62,33.22 L233.15,33.25 L233.69,33.29 L234.22,33.32 L234.75,33.35 L235.28,33.38 L235.82,33.41 L236.35,33.44 L236.88,33.48 L237.41,33.51 L237.95,33.54 L238.48,33.58 L239.01,33.61 L239.54,33.65 L240.08,33.68 L240.61,33.72 L241.14,33.75 L241.67,33.79 L242.21,33.83 L242.74,33.86 L243.27,33.90 L243.80,33.94 L244.34,33.98 L244.87,34.02 L245.40,34.06 L245.93,34.10 L246.46,34.14 L247.00,34.18 L247.53,34.22 L248.06,34.26 L248.59,34.30 L249.12,34.35 L249.66,34.39 L250.19,34.44 L250.72,34.48 L251.25,34.53 L251.78,34.57 L252.31,34.62 L252.85,34.67 L253.38,34.72 L253.91,34.77 L254.44,34.82 L254.97,34.87 L255.50,34.92 L256.03,34.97 L256.56,35.03 L257.09,35.08 L257.62,35.14 L258.15,35.20 L258.68,35.26 L259.21,35.32 L259.74,35.38 L260.27,35.44 L260.80,35.50 L261.33,35.57 L261.86,35.63 L262.39,35.70 L262.92,35.76 L263.45,35.83 L263.98,35.90 L264.51,35.97 L265.04,36.04 L265.57,36.11 L266.10,36.18 L266.63,36.25 L267.16,36.32 L267.68,36.39 L268.21,36.47 L268.74,36.54 L269.27,36.62 L269.80,36.69 L270.32,36.77 L270.85,36.85 L271.38,36.93 L271.91,37.01 L272.44,37.09 L272.96,37.17 L273.49,37.26 L274.02,37.34 L274.54,37.43 L275.07,37.51 L275.60,37.60 L276.12,37.69 L276.65,37.78 L277.18,37.87 L277.70,37.96 L278.23,38.05 L278.75,38.15 L279.28,38.24 L279.80,38.34 L280.33,38.44 L280.85,38.54 L281.37,38.64 L281.90,38.74 L282.42,38.84 L282.95,38.94 L283.47,39.04 L283.99,39.15 L284.52,39.26 L285.04,39.37 L285.56,39.48 L286.09,39.59 L286.61,39.70 L287.13,39.81 L287.65,39.93 L288.17,40.05 L288.69,40.17 L289.21,40.29 L289.73,40.41 L290.25,40.54 L290.77,40.66 L291.29,40.79 L291.80,40.92 L292.32,41.05 L292.83,41.19 L293.35,41.33 L293.86,41.46 L294.38,41.60 L294.89,41.75 L295.41,41.89 L295.93,42.04 L296.44,42.19 L296.96,42.34 L297.47,42.49 L297.99,42.65 L298.50,42.81 L299.01,42.97 L299.53,43.14 L300.04,43.30 L300.54,43.48 L301.05,43.65 L301.56,43.83 L302.06,44.01 L302.56,44.19 L303.06,44.38 L303.55,44.57 L304.04,44.76 L304.53,44.96 L305.02,45.16 L305.50,45.37 L305.98,45.58 L306.46,45.80 L306.95,46.02 L307.43,46.25 L307.91,46.49 L308.40,46.73 L308.88,46.97 L309.37,47.22 L309.85,47.48 L310.33,47.74 L310.81,48.01 L311.28,48.28 L311.75,48.56 L312.22,48.84 L312.69,49.12 L313.15,49.41 L313.61,49.71 L314.06,50.01 L314.51,50.31 L314.95,50.62 L315.38,50.93 L315.81,51.24 L316.23,51.56 L316.64,51.88 L317.05,52.20 L317.44,52.53 L317.83,52.86 L318.21,53.20 L318.59,53.54 L318.96,53.88 L319.33,54.24 L319.70,54.60 L320.07,54.97 L320.44,55.35 L320.80,55.73 L321.16,56.12 L321.52,56.51 L321.88,56.91 L322.23,57.32 L322.58,57.73 L322.93,58.14 L323.27,58.56 L323.61,58.99 L323.95,59.42 L324.28,59.85 L324.61,60.29 L324.94,60.73 L325.27,61.18 L325.59,61.63 L325.90,62.08 L326.21,62.53 L326.52,62.99 L326.82,63.44 L327.12,63.91 L327.42,64.37 L327.71,64.83 L327.99,65.30 L328.27,65.76 L328.55,66.23 L328.82,66.70 L329.08,67.17 L329.35,67.63 L329.60,68.10 L329.85,68.57 L330.09,69.04 L330.33,69.50 L330.56,69.97 L330.79,70.44 L331.02,70.90 L331.24,71.38 L331.46,71.85 L331.68,72.33 L331.89,72.81 L332.11,73.30 L332.32,73.79 L332.53,74.28 L332.73,74.78 L332.93,75.27 L333.13,75.77 L333.33,76.27 L333.52,76.78 L333.71,77.28 L333.90,77.79 L334.08,78.30 L334.26,78.81 L334.44,79.32 L334.61,79.83 L334.78,80.35 L334.95,80.86 L335.11,81.38 L335.26,81.89 L335.42,82.41 L335.56,82.93 L335.71,83.44 L335.85,83.96 L335.98,84.48 L336.11,84.99 L336.24,85.51 L336.36,86.02 L336.48,86.54 L336.59,87.06 L336.70,87.57 L336.81,88.09 L336.91,88.61 L337.01,89.14 L337.11,89.66 L337.21,90.18 L337.30,90.71 L337.39,91.23 L337.48,91.76 L337.57,92.29 L337.65,92.82 L337.74,93.35 L337.82,93.87 L337.90,94.40 L337.98,94.93 L338.06,95.46 L338.14,96.00 L338.21,96.53 L338.29,97.06 L338.36,97.59 L338.44,98.12 L338.51,98.65 L338.59,99.17 L338.66,99.70 L338.73,100.23 L338.80,100.76 L338.87,101.29 L338.94,101.82 L339.00,102.35 L339.07,102.88 L339.13,103.41 L339.19,103.94 L339.26,104.47 L339.32,105.00 L339.38,105.53 L339.44,106.06 L339.50,106.59 L339.56,107.12 L339.62,107.65 L339.68,108.18 L339.74,108.71 L339.81,109.24 L339.87,109.77 L339.94,110.30 L340.00,110.83 L340.07,111.36 L340.14,111.89 L340.21,112.41 L340.28,112.94 L340.34,113.47 L340.41,114.00 L340.48,114.53 L340.55,115.06 L340.62,115.59 L340.69,116.12 L340.76,116.65 L340.83,117.18 L340.90,117.71 L340.97,118.23 L341.04,118.76 L341.11,119.29 L341.18,119.82 L341.25,120.35 L341.32,120.88 L341.39,121.41 L341.46,121.94 L341.53,122.47 L341.60,123.00 L341.67,123.52 L341.74,124.05 L341.81,124.58 L341.88,125.11 L341.95,125.64 L342.02,126.17 L342.09,126.70 L342.16,127.23 L342.22,127.76 L342.29,128.29 L342.36,128.82 L342.42,129.35 L342.49,129.87 L342.55,130.40 L342.61,130.93 L342.67,131.46 L342.73,131.99 L342.79,132.52 L342.85,133.05 L342.91,133.59 L342.97,134.12 L343.02,134.65 L343.08,135.18 L343.14,135.71 L343.19,136.24 L343.25,136.77 L343.30,137.30 L343.25,137.36 L343.67,137.78 L344.09,138.19 L344.51,138.61 L344.93,139.02 L345.35,139.43 L345.77,139.83 L346.19,140.24 L346.61,140.64 L347.03,141.05 L347.45,141.45 L347.87,141.84 L348.29,142.24 L348.71,142.64 L349.13,143.03 L349.55,143.42 L349.97,143.81 L350.39,144.20 L350.81,144.59 L351.23,144.97 L351.65,145.36 L352.07,145.74 L352.49,146.12 L352.91,146.50 L353.32,146.88 L353.74,147.25 L354.16,147.63 L354.58,148.00 L355.00,148.37 L355.42,148.74 L355.84,149.11 L356.26,149.47 L356.68,149.84 L357.10,150.20 L357.52,150.56 L357.94,150.92 L358.36,151.28 L358.78,151.64 L359.20,152.00 L359.62,152.35 L360.04,152.71 L360.46,153.06 L360.88,153.41 L361.30,153.76 L361.72,154.11 L362.14,154.45 L362.56,154.80 L362.98,155.14 L363.40,155.49 L363.82,155.83 L364.24,156.17 L364.66,156.51 L365.08,156.84 L365.50,157.18 L365.92,157.52 L366.34,157.85 L366.76,158.18 L367.18,158.52 L367.60,158.85 L368.02,159.18 L368.44,159.50 L368.86,159.83 L369.28,160.16 L369.70,160.48 L370.12,160.81 L370.54,161.13 L370.96,161.45 L371.38,161.77 L371.80,162.09 L372.22,162.41 L372.63,162.73 L373.05,163.04 L373.47,163.36 L373.89,163.67 L374.31,163.99 L374.73,164.30 L375.15,164.61 L375.57,164.93 L375.99,165.24 L376.41,165.55 L376.83,165.86 L377.25,166.16 L377.67,166.47 L378.09,166.78 L378.51,167.09 L378.93,167.39 L379.35,167.70 L379.77,168.00 L380.19,168.30 L380.61,168.61 L381.03,168.91 L381.45,169.21 L381.87,169.51 L382.29,169.81 L382.71,170.11 L383.13,170.41 L383.55,170.71 L383.97,171.01 L384.39,171.31 L384.81,171.61 L385.23,171.90 L385.65,172.20 L386.07,172.50 L386.49,172.79 L386.91,173.08 L387.33,173.38 L387.75,173.67 L388.17,173.96 L388.59,174.26 L389.01,174.55 L389.43,174.84 L389.85,175.13 L390.27,175.42 L390.69,175.71 L391.11,175.99 L391.53,176.28 L391.94,176.57 L392.36,176.85 L392.78,177.14 L393.20,177.42 L393.62,177.71 L394.04,177.99 L394.46,178.27 L394.88,178.56 L395.30,178.84 L395.72,179.12 L396.14,179.40 L396.56,179.68 L396.98,179.96 L397.40,180.23 L397.82,180.51 L398.24,180.79 L398.66,181.07 L399.08,181.34 L399.50,181.62 L399.92,181.89 L400.34,182.17 L400.76,182.44 L401.18,182.71 L401.60,182.99 L402.02,183.26 L402.44,183.53 L402.86,183.80 L403.28,184.07 L403.70,184.34 L404.12,184.61 L404.54,184.88 L404.96,185.15 L405.38,185.42 L405.80,185.69 L406.22,185.95 L406.64,186.22 L407.06,186.49 L407.48,186.76 L407.90,187.02 L408.32,187.29 L408.74,187.55 L409.16,187.82 L409.58,188.08 L410.00,188.34 L410.42,188.61 L410.84,188.87 L411.25,189.13 L411.67,189.40 L412.09,189.66 L412.51,189.92 L412.93,190.18 L413.35,190.44 L413.77,190.70 L414.19,190.96 L414.61,191.22 L415.03,191.48 L415.45,191.73 L415.87,191.99 L416.29,192.25 L416.71,192.51 L417.13,192.76 L417.55,193.02 L417.97,193.27 L418.39,193.53 L418.81,193.78 L419.23,194.04 L419.65,194.29 L420.07,194.54 L420.49,194.79 L420.91,195.05 L421.33,195.30 L421.75,195.55 L422.17,195.80 L422.59,196.05 L423.01,196.30 L423.43,196.55 L423.85,196.79 L424.27,197.04 L424.69,197.29 L425.11,197.54 L425.53,197.78 L425.95,198.03 L426.37,198.27 L426.79,198.52 L427.21,198.76 L427.63,199.01 L428.05,199.25 L428.47,199.49 L428.89,199.73 L429.31,199.98 L429.73,200.22 L430.15,200.46 L430.56,200.70 L430.98,200.94 L431.40,201.18 L431.82,201.41 L432.24,201.65 L432.66,201.89 L433.08,202.13 L433.50,202.36 L433.92,202.60 L434.34,202.83 L434.76,203.07 L435.18,203.30 L435.60,203.54 L436.02,203.77 L436.44,204.00 L436.86,204.23 L437.28,204.47 L437.70,204.70 L438.12,204.93 L438.54,205.16 L438.96,205.39 L439.38,205.61 L439.80,205.84 L440.22,206.07 L440.64,206.30 L441.06,206.52 L441.48,206.75 L441.90,206.97 L442.32,207.20 L442.74,207.42 L443.16,207.65 L443.58,207.87 L444.00,208.09 L444.42,208.31 L444.84,208.53 L445.26,208.76 L445.68,208.98 L446.10,209.19 L446.52,209.41 L446.94,209.63 L447.36,209.85 L447.78,210.07 L448.20,210.28 L448.62,210.50 L449.04,210.71 L449.46,210.93 L449.87,211.14 L450.29,211.36 L450.71,211.57 L451.13,211.78 L451.55,211.99 L451.97,212.20 L452.39,212.41 L452.81,212.62 L453.23,212.83 L453.65,213.04 L454.07,213.25 L454.49,213.46 L454.91,213.66 L455.33,213.87 L455.75,214.07 L456.17,214.28 L456.59,214.48 L457.01,214.69 L457.43,214.89 L457.85,215.09 L458.27,215.29 L458.69,215.49 L459.11,215.69 L459.53,215.89 L459.95,216.09 L460.37,216.29 L460.79,216.49 L461.21,216.68 L461.63,216.88 L462.05,217.08 L462.47,217.27 L462.89,217.46 L463.31,217.66 L463.73,217.85 L464.15,218.04 L464.57,218.24 L464.99,218.43 L465.41,218.62 L465.83,218.81 L466.25,219.00 L466.67,219.18 L467.09,219.37 L467.51,219.56 L467.93,219.74 L468.35,219.93 L468.77,220.11 L469.18,220.30 L469.60,220.48 L470.02,220.67 L470.44,220.85 L470.86,221.03 L471.28,221.21 L471.70,221.39 L472.12,221.57 L472.54,221.75 L472.96,221.93 L473.38,222.10 L473.80,222.28 L474.22,222.46 L474.64,222.63 L475.06,222.81 L475.48,222.98 L475.90,223.16 L476.32,223.33 L476.74,223.50 L477.16,223.68 L477.58,223.85 L478.00,224.02 L478.42,224.19 L478.84,224.36 L479.26,224.53 L479.68,224.70 L480.10,224.87 L480.52,225.03 L480.94,225.20 L481.36,225.37 L481.78,225.54 L482.20,225.70 L482.62,225.87 L483.04,226.03 L483.46,226.20 L483.88,226.36 L484.30,226.52 L484.72,226.69 L485.14,226.85 L485.56,227.01 L485.98,227.17 L486.40,227.34 L486.82,227.50 L487.24,227.66 L487.66,227.82 L488.08,227.98 L488.49,228.14 L488.91,228.29 L489.33,228.45 L489.75,228.61 L490.17,228.77 L490.59,228.93 L491.01,229.08 L491.43,229.24 L491.85,229.40 L492.27,229.55 L492.69,229.71 L493.11,229.86 L493.53,230.02 L493.95,230.17 L494.37,230.33 L494.79,230.48 L495.21,230.64 L495.63,230.79 L496.05,230.94 L496.47,231.10 L496.89,231.25 L497.31,231.40 L497.73,231.55 L498.15,231.71 L498.57,231.86 L498.99,232.01 L499.41,232.16 L499.83,232.31 L500.25,232.46 L500.67,232.61 L501.09,232.76 L501.51,232.91 L501.93,233.06 L502.35,233.21 L502.77,233.36 L503.19,233.51 L503.61,233.66 L504.03,233.81 L504.45,233.96 L504.87,234.11 L505.29,234.26 L505.71,234.41 L506.13,234.55 L506.55,234.70 L506.97,234.85 L507.39,235.00 L507.80,235.15 L508.22,235.30 L508.64,235.44 L509.06,235.59 L509.48,235.74 L509.90,235.89 L510.32,236.03 L510.74,236.18 L511.16,236.33 L511.58,236.48 L512.00,236.62 L512.42,236.77 L512.84,236.92 L513.26,237.06 L513.68,237.21 L514.10,237.36 L514.52,237.51 L514.94,237.65 L515.36,237.80 L515.78,237.95 L516.20,238.10 L516.62,238.24 L517.04,238.39 L517.46,238.54 L517.88,238.69 L518.30,238.83 L518.72,238.98 L519.14,239.13 L519.56,239.28 L519.98,239.42 L520.40,239.57 L520.82,239.72 L521.24,239.87 L521.66,240.02 L522.08,240.16 L522.50,240.31 L522.92,240.46 L523.34,240.61 L523.76,240.76 L524.18,240.91 L524.60,241.06 L525.02,241.21 L525.44,241.36 L525.86,241.50 L526.28,241.65 L526.70,241.80 L527.11,241.95 L527.53,242.11 L527.95,242.26 L528.37,242.41 L528.79,242.56 L529.21,242.71 L529.63,242.86 L530.05,243.01 L530.47,243.16 L530.89,243.32 L531.31,243.47 L531.73,243.62 L532.15,243.77 L532.57,243.93 L532.99,244.08 L533.41,244.24 L533.83,244.39 L534.25,244.54 L534.67,244.70 L535.09,244.85 L535.51,245.01 L535.93,245.16 L536.35,245.32 L536.77,245.47 L537.19,245.63 L537.61,245.79 L538.03,245.94 L538.45,246.10 L538.87,246.26 L539.29,246.42 L539.71,246.57 L540.13,246.73 L540.55,246.89 L540.97,247.05 L541.39,247.21 L541.81,247.36 L542.23,247.52 L542.65,247.68 L543.07,247.84 L543.49,248.00 L543.91,248.16 L544.33,248.32 L544.75,248.48 L545.17,248.64 L545.59,248.80 L546.01,248.96 L546.42,249.13 L546.84,249.29 L547.26,249.45 L547.68,249.61 L548.10,249.77 L548.52,249.94 L548.94,250.10 L549.36,250.26 L549.78,250.42 L550.20,250.59 L550.62,250.75 L551.04,250.91 L551.46,251.08 L551.88,251.24 L552.30,251.41 L552.72,251.57 L553.14,251.74 L553.56,251.90 L553.98,252.07 L554.40,252.23 L554.82,252.40 L555.24,252.56 L555.66,252.73 L556.08,252.89 L556.50,253.06 L556.92,253.23 L557.34,253.39 L557.76,253.56 L558.18,253.73 L558.60,253.89 L559.02,254.06 L559.44,254.23 L559.86,254.39 L560.28,254.56 L560.70,254.73 L561.12,254.90 L561.54,255.07 L561.96,255.23 L562.38,255.40 L562.80,255.57 L563.22,255.74 L563.64,255.91 L564.06,256.08 L564.48,256.25 L564.90,256.42 L565.32,256.59 L565.73,256.76 L566.15,256.93 L566.57,257.10 L566.99,257.27 L567.41,257.44 L567.83,257.61 L568.25,257.78 L568.67,257.95 L569.09,258.12 L569.51,258.29 L569.93,258.46 L570.35,258.63 L570.77,258.81 L571.19,258.98 L571.61,259.15 L572.03,259.32 L572.45,259.49 L572.87,259.66 L573.29,259.84 L573.71,260.01 L574.13,260.18 L574.55,260.35 L574.97,260.53 L575.39,260.70 L575.81,260.87 L576.23,261.05 L576.65,261.22 L577.07,261.39 L577.49,261.57 L577.91,261.74 L578.33,261.91 L578.75,262.09 L579.17,262.26 L579.59,262.43 L580.01,262.61 L580.43,262.78 L580.85,262.96 L581.27,263.13 L581.69,263.31 L582.11,263.48 L582.53,263.65 L582.95,263.83 L583.37,264.00 L583.79,264.18 L584.21,264.35 L584.63,264.53 L585.04,264.70 L585.46,264.88 L585.88,265.05 L586.30,265.23 L586.72,265.40 L587.14,265.58 L587.56,265.76 L587.98,265.93 L588.40,266.11 L588.82,266.28 L589.24,266.46 L589.66,266.63 L590.08,266.81 L590.50,266.99 L590.92,267.16 L591.34,267.34 L591.76,267.52 L592.18,267.69 L592.60,267.87 L593.02,268.04 L593.44,268.22 L593.86,268.40 L594.28,268.57 L594.70,268.75" stroke="#68c040" stroke-width="1.3" stroke-dasharray="5.8 6.2"/>
</g>
<rect x="127.8" y="199.3" width="200.89999999999998" height="191.0" fill="#fff"/>
<g clip-path="url(#ci)" fill="none" stroke-linejoin="round" stroke-linecap="round">
<path d="M127.80,240.13 L128.14,240.19 L128.47,240.25 L128.81,240.32 L129.14,240.38 L129.48,240.45 L129.81,240.51 L130.15,240.57 L130.48,240.64 L130.82,240.70 L131.15,240.76 L131.49,240.83 L131.82,240.89 L132.16,240.96 L132.50,241.02 L132.83,241.08 L133.17,241.15 L133.50,241.21 L133.84,241.27 L134.17,241.34 L134.51,241.40 L134.84,241.47 L135.18,241.53 L135.51,241.59 L135.85,241.66 L136.18,241.72 L136.52,241.78 L136.86,241.85 L137.19,241.91 L137.53,241.98 L137.86,242.04 L138.20,242.17 L138.53,242.30 L138.87,242.43 L139.20,242.55 L139.54,242.68 L139.87,242.81 L140.21,242.94 L140.54,243.06 L140.88,243.19 L141.22,243.32 L141.55,243.45 L141.89,243.57 L142.22,243.70 L142.56,243.83 L142.89,243.96 L143.23,244.08 L143.56,244.21 L143.90,244.34 L144.23,244.47 L144.57,244.59 L144.91,244.72 L145.24,244.85 L145.58,244.98 L145.91,245.10 L146.25,245.23 L146.58,245.36 L146.92,245.49 L147.25,245.61 L147.59,245.74 L147.92,245.88 L148.26,246.10 L148.59,246.32 L148.93,246.55 L149.27,246.77 L149.60,246.99 L149.94,247.22 L150.27,247.44 L150.61,247.66 L150.94,247.89 L151.28,248.11 L151.61,248.33 L151.95,248.56 L152.28,248.78 L152.62,249.00 L152.95,249.23 L153.29,249.45 L153.63,249.67 L153.96,249.90 L154.30,250.12 L154.63,250.34 L154.97,250.57 L155.30,250.79 L155.64,251.01 L155.97,251.24 L156.31,251.46 L156.64,251.68 L156.98,251.91 L157.31,252.13 L157.65,252.35 L157.99,252.56 L158.32,252.72 L158.66,252.87 L158.99,253.02 L159.33,253.17 L159.66,253.32 L160.00,253.47 L160.33,253.62 L160.67,253.78 L161.00,253.93 L161.34,254.08 L161.67,254.23 L162.01,254.38 L162.35,254.53 L162.68,254.68 L163.02,254.84 L163.35,254.99 L163.69,255.14 L164.02,255.29 L164.36,255.44 L164.69,255.59 L165.03,255.74 L165.36,255.90 L165.70,256.05 L166.03,256.20 L166.37,256.35 L166.71,256.50 L167.04,256.65 L167.38,256.80 L167.71,256.96 L168.05,257.11 L168.38,257.26 L168.72,257.41 L169.05,257.56 L169.39,257.71 L169.72,257.87 L170.06,258.02 L170.39,258.17 L170.73,258.32 L171.07,258.47 L171.40,258.62 L171.74,258.77 L172.07,258.93 L172.41,259.08 L172.74,259.23 L173.08,259.38 L173.41,259.53 L173.75,259.68 L174.08,259.83 L174.42,259.99 L174.75,260.14 L175.09,260.29 L175.43,260.44 L175.76,260.59 L176.10,260.74 L176.43,260.89 L176.77,261.05 L177.10,261.20 L177.44,261.35 L177.77,261.50 L178.11,261.65 L178.44,261.80 L178.78,261.95 L179.12,262.11 L179.45,262.26 L179.79,262.41 L180.12,262.56 L180.46,262.71 L180.79,262.86 L181.13,263.01 L181.46,263.17 L181.80,263.32 L182.13,263.47 L182.47,263.62 L182.80,263.77 L183.14,263.92 L183.48,264.07 L183.81,264.23 L184.15,264.38 L184.48,264.53 L184.82,264.68 L185.15,264.83 L185.49,264.98 L185.82,265.14 L186.16,265.29 L186.49,265.44 L186.83,265.59 L187.16,265.74 L187.50,265.89 L187.84,266.04 L188.17,266.22 L188.51,266.45 L188.84,266.68 L189.18,266.91 L189.51,267.14 L189.85,267.38 L190.18,267.61 L190.52,267.84 L190.85,268.07 L191.19,268.30 L191.52,268.53 L191.86,268.76 L192.20,268.99 L192.53,269.22 L192.87,269.46 L193.20,269.69 L193.54,269.92 L193.87,270.15 L194.21,270.38 L194.54,270.61 L194.88,270.84 L195.21,271.07 L195.55,271.31 L195.88,271.54 L196.22,271.77 L196.56,272.00 L196.89,272.23 L197.23,272.46 L197.56,272.69 L197.90,272.92 L198.23,273.20 L198.57,273.58 L198.90,273.95 L199.24,274.33 L199.57,274.70 L199.91,275.08 L200.24,275.45 L200.58,275.83 L200.92,276.20 L201.25,276.58 L201.59,276.95 L201.92,277.33 L202.26,277.70 L202.59,278.06 L202.93,278.42 L203.26,278.78 L203.60,279.14 L203.93,279.51 L204.27,279.87 L204.60,280.24 L204.94,280.60 L205.28,280.97 L205.61,281.35 L205.95,281.72 L206.28,282.10 L206.62,282.48 L206.95,282.87 L207.29,283.26 L207.62,283.65 L207.96,284.05 L208.29,284.48 L208.63,284.93 L208.96,285.38 L209.30,285.83 L209.64,286.28 L209.97,286.73 L210.31,287.18 L210.64,287.63 L210.98,288.09 L211.31,288.54 L211.65,289.00 L211.98,289.45 L212.32,289.91 L212.65,290.37 L212.99,290.84 L213.33,291.30 L213.66,291.77 L214.00,292.24 L214.33,292.71 L214.67,293.19 L215.00,293.67 L215.34,294.16 L215.67,294.65 L216.01,295.13 L216.34,295.63 L216.68,296.12 L217.01,296.61 L217.35,297.11 L217.69,297.61 L218.02,298.11 L218.36,298.61 L218.69,299.11 L219.03,299.61 L219.36,300.12 L219.70,300.63 L220.03,301.14 L220.37,301.65 L220.70,302.16 L221.04,302.68 L221.37,303.19 L221.71,303.71 L222.05,304.23 L222.38,304.75 L222.72,305.27 L223.05,305.80 L223.39,306.32 L223.72,306.85 L224.06,307.38 L224.39,307.91 L224.73,308.44 L225.06,308.98 L225.40,309.51 L225.73,310.05 L226.07,310.59 L226.41,311.13 L226.74,311.67 L227.08,312.22 L227.41,312.77 L227.75,313.31 L228.08,313.86 L228.42,314.41 L228.75,314.97 L229.09,315.52 L229.42,316.08 L229.76,316.64 L230.09,317.20 L230.43,317.76 L230.77,318.32 L231.10,318.88 L231.44,319.44 L231.77,320.01 L232.11,320.57 L232.44,321.14 L232.78,321.71 L233.11,322.28 L233.45,322.85 L233.78,323.41 L234.12,323.98 L234.45,324.55 L234.79,325.13 L235.13,325.70 L235.46,326.27 L235.80,326.84 L236.13,327.41 L236.47,327.98 L236.80,328.55 L237.14,329.12 L237.47,329.69 L237.81,330.26 L238.14,330.83 L238.48,331.40 L238.81,331.97 L239.15,332.54 L239.49,333.11 L239.82,333.67 L240.16,334.24 L240.49,334.81 L240.83,335.37 L241.16,335.93 L241.50,336.49 L241.83,337.05 L242.17,337.61 L242.50,338.17 L242.84,338.73 L243.17,339.28 L243.51,339.83 L243.85,340.39 L244.18,340.94 L244.52,341.48 L244.85,342.03 L245.19,342.57 L245.52,343.11 L245.86,343.65 L246.19,344.19 L246.53,344.72 L246.86,345.25 L247.20,345.78 L247.54,346.31 L247.87,346.83 L248.21,347.36 L248.54,347.87 L248.88,348.39 L249.21,348.90 L249.55,349.41 L249.88,349.92 L250.22,350.42 L250.55,350.92 L250.89,351.42 L251.22,351.91 L251.56,352.40 L251.90,352.88 L252.23,353.36 L252.57,353.84 L252.90,354.31 L253.24,354.78 L253.57,355.25 L253.91,355.71 L254.24,356.17 L254.58,356.62 L254.91,357.06 L255.25,357.51 L255.58,357.95 L255.92,358.38 L256.26,358.81 L256.59,359.23 L256.93,359.65 L257.26,360.06 L257.60,360.47 L257.93,360.88 L258.27,361.27 L258.60,361.67 L258.94,362.05 L259.27,362.43 L259.61,362.81 L259.94,363.18 L260.28,363.55 L260.62,363.91 L260.95,364.27 L261.29,364.62 L261.62,364.96 L261.96,365.31 L262.29,365.65 L262.63,365.98 L262.96,366.31 L263.30,366.64 L263.63,366.96 L263.97,367.28 L264.30,367.59 L264.64,367.90 L264.98,368.21 L265.31,368.51 L265.65,368.82 L265.98,369.11 L266.32,369.41 L266.65,369.70 L266.99,369.99 L267.32,370.27 L267.66,370.56 L267.99,370.84 L268.33,371.12 L268.66,371.39 L269.00,371.67 L269.34,371.94 L269.67,372.21 L270.01,372.47 L270.34,372.74 L270.68,373.00 L271.01,373.26 L271.35,373.52 L271.68,373.77 L272.02,374.02 L272.35,374.27 L272.69,374.52 L273.02,374.77 L273.36,375.01 L273.70,375.25 L274.03,375.48 L274.37,375.72 L274.70,375.95 L275.04,376.18 L275.37,376.40 L275.71,376.63 L276.04,376.85 L276.38,377.07 L276.71,377.28 L277.05,377.49 L277.38,377.70 L277.72,377.91 L278.06,378.11 L278.39,378.31 L278.73,378.51 L279.06,378.71 L279.40,378.90 L279.73,379.09 L280.07,379.27 L280.40,379.46 L280.74,379.64 L281.07,379.81 L281.41,379.99 L281.75,380.16 L282.08,380.33 L282.42,380.50 L282.75,380.67 L283.09,380.83 L283.42,380.99 L283.76,381.15 L284.09,381.30 L284.43,381.45 L284.76,381.60 L285.10,381.75 L285.43,381.90 L285.77,382.04 L286.11,382.18 L286.44,382.32 L286.78,382.46 L287.11,382.59 L287.45,382.73 L287.78,382.86 L288.12,382.99 L288.45,383.11 L288.79,383.24 L289.12,383.36 L289.46,383.48 L289.79,383.60 L290.13,383.72 L290.47,383.83 L290.80,383.95 L291.14,384.06 L291.47,384.17 L291.81,384.28 L292.14,384.38 L292.48,384.49 L292.81,384.59 L293.15,384.69 L293.48,384.79 L293.82,384.89 L294.15,384.99 L294.49,385.08 L294.83,385.18 L295.16,385.27 L295.50,385.36 L295.83,385.45 L296.17,385.54 L296.50,385.62 L296.84,385.71 L297.17,385.79 L297.51,385.87 L297.84,385.95 L298.18,386.03 L298.51,386.11 L298.85,386.19 L299.19,386.26 L299.52,386.34 L299.86,386.41 L300.19,386.48 L300.53,386.55 L300.86,386.62 L301.20,386.69 L301.53,386.75 L301.87,386.82 L302.20,386.88 L302.54,386.95 L302.87,387.01 L303.21,387.07 L303.55,387.13 L303.88,387.19 L304.22,387.25 L304.55,387.30 L304.89,387.36 L305.22,387.41 L305.56,387.47 L305.89,387.52 L306.23,387.57 L306.56,387.62 L306.90,387.67 L307.23,387.72 L307.57,387.77 L307.91,387.82 L308.24,387.86 L308.58,387.91 L308.91,387.95 L309.25,388.00 L309.58,388.04 L309.92,388.08 L310.25,388.12 L310.59,388.16 L310.92,388.20 L311.26,388.24 L311.59,388.28 L311.93,388.32 L312.27,388.35 L312.60,388.39 L312.94,388.43 L313.27,388.46 L313.61,388.49 L313.94,388.53 L314.28,388.56 L314.61,388.59 L314.95,388.62 L315.28,388.66 L315.62,388.69 L315.96,388.72 L316.29,388.75 L316.63,388.77 L316.96,388.80 L317.30,388.83 L317.63,388.86 L317.97,388.89 L318.30,388.91 L318.64,388.94 L318.97,388.96 L319.31,388.99 L319.64,389.01 L319.98,389.04 L320.32,389.06 L320.65,389.09 L320.99,389.11 L321.32,389.13 L321.66,389.15 L321.99,389.18 L322.33,389.20 L322.66,389.22 L323.00,389.24 L323.33,389.26 L323.67,389.29 L324.00,389.31 L324.34,389.33 L324.68,389.35 L325.01,389.37 L325.35,389.39 L325.68,389.41 L326.02,389.43 L326.35,389.45 L326.69,389.47 L327.02,389.49 L327.36,389.51 L327.69,389.53 L328.03,389.55 L328.36,389.56 L328.70,389.58" stroke="#000" stroke-width="2.26"/>
<path d="M127.80,224.61 L128.14,224.62 L128.47,224.63 L128.81,224.65 L129.14,224.67 L129.48,224.69 L129.81,224.72 L130.15,224.75 L130.48,224.78 L130.82,224.82 L131.15,224.86 L131.49,224.90 L131.82,224.95 L132.16,224.99 L132.50,225.04 L132.83,225.09 L133.17,225.15 L133.50,225.20 L133.84,225.26 L134.17,225.32 L134.51,225.38 L134.84,225.44 L135.18,225.50 L135.51,225.57 L135.85,225.63 L136.18,225.70 L136.52,225.77 L136.86,225.84 L137.19,225.90 L137.53,225.97 L137.86,226.04 L138.20,226.12 L138.53,226.20 L138.87,226.28 L139.20,226.37 L139.54,226.47 L139.87,226.57 L140.21,226.67 L140.54,226.79 L140.88,226.90 L141.22,227.02 L141.55,227.14 L141.89,227.27 L142.22,227.40 L142.56,227.53 L142.89,227.67 L143.23,227.81 L143.56,227.95 L143.90,228.09 L144.23,228.23 L144.57,228.38 L144.91,228.53 L145.24,228.68 L145.58,228.83 L145.91,228.98 L146.25,229.13 L146.58,229.28 L146.92,229.43 L147.25,229.58 L147.59,229.73 L147.92,229.87 L148.26,230.02 L148.59,230.18 L148.93,230.33 L149.27,230.49 L149.60,230.65 L149.94,230.82 L150.27,230.99 L150.61,231.15 L150.94,231.33 L151.28,231.50 L151.61,231.67 L151.95,231.85 L152.28,232.03 L152.62,232.21 L152.95,232.39 L153.29,232.57 L153.63,232.76 L153.96,232.94 L154.30,233.12 L154.63,233.31 L154.97,233.49 L155.30,233.68 L155.64,233.86 L155.97,234.05 L156.31,234.23 L156.64,234.41 L156.98,234.60 L157.31,234.78 L157.65,234.96 L157.99,235.14 L158.32,235.32 L158.66,235.50 L158.99,235.68 L159.33,235.86 L159.66,236.05 L160.00,236.23 L160.33,236.41 L160.67,236.60 L161.00,236.78 L161.34,236.96 L161.67,237.15 L162.01,237.33 L162.35,237.52 L162.68,237.71 L163.02,237.89 L163.35,238.08 L163.69,238.26 L164.02,238.45 L164.36,238.63 L164.69,238.82 L165.03,239.00 L165.36,239.18 L165.70,239.37 L166.03,239.55 L166.37,239.73 L166.71,239.92 L167.04,240.10 L167.38,240.28 L167.71,240.46 L168.05,240.64 L168.38,240.82 L168.72,240.99 L169.05,241.17 L169.39,241.34 L169.72,241.52 L170.06,241.69 L170.39,241.86 L170.73,242.03 L171.07,242.20 L171.40,242.37 L171.74,242.54 L172.07,242.71 L172.41,242.88 L172.74,243.05 L173.08,243.22 L173.41,243.39 L173.75,243.56 L174.08,243.73 L174.42,243.90 L174.75,244.08 L175.09,244.25 L175.43,244.43 L175.76,244.60 L176.10,244.78 L176.43,244.97 L176.77,245.15 L177.10,245.33 L177.44,245.52 L177.77,245.71 L178.11,245.90 L178.44,246.10 L178.78,246.29 L179.12,246.49 L179.45,246.68 L179.79,246.87 L180.12,247.07 L180.46,247.27 L180.79,247.46 L181.13,247.66 L181.46,247.86 L181.80,248.06 L182.13,248.27 L182.47,248.47 L182.80,248.68 L183.14,248.89 L183.48,249.10 L183.81,249.31 L184.15,249.53 L184.48,249.75 L184.82,249.97 L185.15,250.20 L185.49,250.42 L185.82,250.66 L186.16,250.89 L186.49,251.13 L186.83,251.37 L187.16,251.62 L187.50,251.87 L187.84,252.12 L188.17,252.38 L188.51,252.64 L188.84,252.91 L189.18,253.18 L189.51,253.46 L189.85,253.74 L190.18,254.03 L190.52,254.32 L190.85,254.62 L191.19,254.92 L191.52,255.22 L191.86,255.53 L192.20,255.84 L192.53,256.16 L192.87,256.48 L193.20,256.81 L193.54,257.14 L193.87,257.48 L194.21,257.82 L194.54,258.16 L194.88,258.51 L195.21,258.86 L195.55,259.22 L195.88,259.58 L196.22,259.95 L196.56,260.32 L196.89,260.69 L197.23,261.07 L197.56,261.45 L197.90,261.84 L198.23,262.23 L198.57,262.63 L198.90,263.04 L199.24,263.45 L199.57,263.88 L199.91,264.31 L200.24,264.75 L200.58,265.20 L200.92,265.66 L201.25,266.12 L201.59,266.59 L201.92,267.07 L202.26,267.55 L202.59,268.04 L202.93,268.53 L203.26,269.03 L203.60,269.53 L203.93,270.04 L204.27,270.55 L204.60,271.06 L204.94,271.58 L205.28,272.10 L205.61,272.62 L205.95,273.15 L206.28,273.68 L206.62,274.21 L206.95,274.74 L207.29,275.27 L207.62,275.80 L207.96,276.34 L208.29,276.87 L208.63,277.41 L208.96,277.95 L209.30,278.51 L209.64,279.06 L209.97,279.63 L210.31,280.20 L210.64,280.77 L210.98,281.35 L211.31,281.93 L211.65,282.52 L211.98,283.11 L212.32,283.70 L212.65,284.30 L212.99,284.90 L213.33,285.50 L213.66,286.11 L214.00,286.71 L214.33,287.32 L214.67,287.93 L215.00,288.54 L215.34,289.15 L215.67,289.75 L216.01,290.36 L216.34,290.97 L216.68,291.58 L217.01,292.19 L217.35,292.79 L217.69,293.39 L218.02,293.99 L218.36,294.59 L218.69,295.19 L219.03,295.79 L219.36,296.38 L219.70,296.98 L220.03,297.57 L220.37,298.17 L220.70,298.76 L221.04,299.36 L221.37,299.96 L221.71,300.55 L222.05,301.15 L222.38,301.75 L222.72,302.35 L223.05,302.95 L223.39,303.55 L223.72,304.15 L224.06,304.76 L224.39,305.36 L224.73,305.97 L225.06,306.58 L225.40,307.19 L225.73,307.80 L226.07,308.41 L226.41,309.03 L226.74,309.65 L227.08,310.27 L227.41,310.90 L227.75,311.52 L228.08,312.15 L228.42,312.78 L228.75,313.42 L229.09,314.07 L229.42,314.71 L229.76,315.37 L230.09,316.02 L230.43,316.68 L230.77,317.35 L231.10,318.01 L231.44,318.68 L231.77,319.36 L232.11,320.03 L232.44,320.70 L232.78,321.38 L233.11,322.05 L233.45,322.73 L233.78,323.41 L234.12,324.08 L234.45,324.76 L234.79,325.43 L235.13,326.10 L235.46,326.77 L235.80,327.44 L236.13,328.10 L236.47,328.76 L236.80,329.42 L237.14,330.07 L237.47,330.72 L237.81,331.36 L238.14,332.00 L238.48,332.63 L238.81,333.27 L239.15,333.90 L239.49,334.53 L239.82,335.17 L240.16,335.80 L240.49,336.44 L240.83,337.07 L241.16,337.70 L241.50,338.34 L241.83,338.97 L242.17,339.59 L242.50,340.22 L242.84,340.84 L243.17,341.46 L243.51,342.08 L243.85,342.69 L244.18,343.30 L244.52,343.91 L244.85,344.51 L245.19,345.10 L245.52,345.69 L245.86,346.28 L246.19,346.86 L246.53,347.44 L246.86,348.01 L247.20,348.57 L247.54,349.12 L247.87,349.67 L248.21,350.21 L248.54,350.75 L248.88,351.28 L249.21,351.81 L249.55,352.34 L249.88,352.86 L250.22,353.38 L250.55,353.89 L250.89,354.41 L251.22,354.92 L251.56,355.42 L251.90,355.93 L252.23,356.42 L252.57,356.92 L252.90,357.41 L253.24,357.90 L253.57,358.38 L253.91,358.86 L254.24,359.33 L254.58,359.80 L254.91,360.26 L255.25,360.72 L255.58,361.17 L255.92,361.62 L256.26,362.07 L256.59,362.50 L256.93,362.94 L257.26,363.36 L257.60,363.79 L257.93,364.20 L258.27,364.61 L258.60,365.02 L258.94,365.42 L259.27,365.82 L259.61,366.22 L259.94,366.61 L260.28,367.00 L260.62,367.39 L260.95,367.78 L261.29,368.16 L261.62,368.54 L261.96,368.92 L262.29,369.29 L262.63,369.66 L262.96,370.02 L263.30,370.38 L263.63,370.74 L263.97,371.09 L264.30,371.44 L264.64,371.78 L264.98,372.12 L265.31,372.45 L265.65,372.78 L265.98,373.10 L266.32,373.41 L266.65,373.72 L266.99,374.02 L267.32,374.32 L267.66,374.61 L267.99,374.90 L268.33,375.18 L268.66,375.45 L269.00,375.72 L269.34,375.99 L269.67,376.25 L270.01,376.51 L270.34,376.77 L270.68,377.03 L271.01,377.28 L271.35,377.53 L271.68,377.77 L272.02,378.02 L272.35,378.26 L272.69,378.49 L273.02,378.72 L273.36,378.95 L273.70,379.18 L274.03,379.40 L274.37,379.62 L274.70,379.83 L275.04,380.04 L275.37,380.25 L275.71,380.45 L276.04,380.65 L276.38,380.84 L276.71,381.03 L277.05,381.21 L277.38,381.39 L277.72,381.57 L278.06,381.74 L278.39,381.90 L278.73,382.06 L279.06,382.22 L279.40,382.38 L279.73,382.54 L280.07,382.69 L280.40,382.84 L280.74,382.99 L281.07,383.14 L281.41,383.28 L281.75,383.43 L282.08,383.57 L282.42,383.70 L282.75,383.84 L283.09,383.97 L283.42,384.10 L283.76,384.23 L284.09,384.35 L284.43,384.48 L284.76,384.60 L285.10,384.72 L285.43,384.83 L285.77,384.94 L286.11,385.05 L286.44,385.16 L286.78,385.27 L287.11,385.37 L287.45,385.47 L287.78,385.56 L288.12,385.66 L288.45,385.75 L288.79,385.83 L289.12,385.92 L289.46,386.00 L289.79,386.09 L290.13,386.17 L290.47,386.25 L290.80,386.33 L291.14,386.40 L291.47,386.48 L291.81,386.55 L292.14,386.62 L292.48,386.69 L292.81,386.76 L293.15,386.83 L293.48,386.90 L293.82,386.96 L294.15,387.03 L294.49,387.09 L294.83,387.16 L295.16,387.22 L295.50,387.28 L295.83,387.34 L296.17,387.40 L296.50,387.45 L296.84,387.51 L297.17,387.57 L297.51,387.62 L297.84,387.68 L298.18,387.73 L298.51,387.79 L298.85,387.84 L299.19,387.89 L299.52,387.94 L299.86,387.99 L300.19,388.05 L300.53,388.10 L300.86,388.15 L301.20,388.20 L301.53,388.25 L301.87,388.29 L302.20,388.34 L302.54,388.39 L302.87,388.44 L303.21,388.48 L303.55,388.53 L303.88,388.57 L304.22,388.62 L304.55,388.66 L304.89,388.70 L305.22,388.74 L305.56,388.78 L305.89,388.82 L306.23,388.86 L306.56,388.90 L306.90,388.93 L307.23,388.97 L307.57,389.01 L307.91,389.04 L308.24,389.07 L308.58,389.10 L308.91,389.13 L309.25,389.16 L309.58,389.20 L309.92,389.23 L310.25,389.26 L310.59,389.29 L310.92,389.31 L311.26,389.34 L311.59,389.37 L311.93,389.40 L312.27,389.43 L312.60,389.46 L312.94,389.48 L313.27,389.51 L313.61,389.53 L313.94,389.56 L314.28,389.58 L314.61,389.61 L314.95,389.63 L315.28,389.65 L315.62,389.67 L315.96,389.69 L316.29,389.71 L316.63,389.73 L316.96,389.75 L317.30,389.77 L317.63,389.78 L317.97,389.80 L318.30,389.81 L318.64,389.82 L318.97,389.83 L319.31,389.85 L319.64,389.86 L319.98,389.87 L320.32,389.88 L320.65,389.89 L320.99,389.90 L321.32,389.92 L321.66,389.93 L321.99,389.94 L322.33,389.95 L322.66,389.96 L323.00,389.97 L323.33,389.98 L323.67,389.99 L324.00,390.00 L324.34,390.00 L324.68,390.01 L325.01,390.02 L325.35,390.03 L325.68,390.03 L326.02,390.04 L326.35,390.04 L326.69,390.05 L327.02,390.05 L327.36,390.06 L327.69,390.06 L328.03,390.06 L328.36,390.06 L328.70,390.06" stroke="#f00" stroke-width="1.70" stroke-dasharray="12.0 6.2"/>
<path d="M127.80,215.06 L128.14,215.06 L128.47,215.06 L128.81,215.07 L129.14,215.09 L129.48,215.10 L129.81,215.12 L130.15,215.14 L130.48,215.17 L130.82,215.20 L131.15,215.23 L131.49,215.26 L131.82,215.30 L132.16,215.34 L132.50,215.38 L132.83,215.42 L133.17,215.47 L133.50,215.51 L133.84,215.56 L134.17,215.61 L134.51,215.67 L134.84,215.72 L135.18,215.78 L135.51,215.83 L135.85,215.89 L136.18,215.95 L136.52,216.01 L136.86,216.07 L137.19,216.13 L137.53,216.19 L137.86,216.25 L138.20,216.32 L138.53,216.40 L138.87,216.49 L139.20,216.58 L139.54,216.68 L139.87,216.80 L140.21,216.91 L140.54,217.04 L140.88,217.17 L141.22,217.31 L141.55,217.45 L141.89,217.60 L142.22,217.75 L142.56,217.91 L142.89,218.07 L143.23,218.23 L143.56,218.40 L143.90,218.56 L144.23,218.73 L144.57,218.90 L144.91,219.07 L145.24,219.24 L145.58,219.41 L145.91,219.58 L146.25,219.75 L146.58,219.92 L146.92,220.09 L147.25,220.25 L147.59,220.41 L147.92,220.56 L148.26,220.72 L148.59,220.88 L148.93,221.03 L149.27,221.19 L149.60,221.35 L149.94,221.51 L150.27,221.67 L150.61,221.83 L150.94,221.99 L151.28,222.16 L151.61,222.32 L151.95,222.49 L152.28,222.65 L152.62,222.82 L152.95,222.99 L153.29,223.15 L153.63,223.32 L153.96,223.49 L154.30,223.66 L154.63,223.84 L154.97,224.01 L155.30,224.18 L155.64,224.35 L155.97,224.53 L156.31,224.70 L156.64,224.88 L156.98,225.06 L157.31,225.23 L157.65,225.41 L157.99,225.59 L158.32,225.77 L158.66,225.95 L158.99,226.13 L159.33,226.31 L159.66,226.50 L160.00,226.68 L160.33,226.87 L160.67,227.05 L161.00,227.24 L161.34,227.43 L161.67,227.62 L162.01,227.81 L162.35,228.00 L162.68,228.19 L163.02,228.38 L163.35,228.58 L163.69,228.77 L164.02,228.97 L164.36,229.16 L164.69,229.36 L165.03,229.55 L165.36,229.75 L165.70,229.95 L166.03,230.14 L166.37,230.34 L166.71,230.54 L167.04,230.74 L167.38,230.93 L167.71,231.13 L168.05,231.33 L168.38,231.53 L168.72,231.73 L169.05,231.93 L169.39,232.13 L169.72,232.33 L170.06,232.53 L170.39,232.73 L170.73,232.93 L171.07,233.13 L171.40,233.34 L171.74,233.54 L172.07,233.74 L172.41,233.95 L172.74,234.15 L173.08,234.36 L173.41,234.56 L173.75,234.77 L174.08,234.98 L174.42,235.19 L174.75,235.40 L175.09,235.61 L175.43,235.82 L175.76,236.03 L176.10,236.25 L176.43,236.46 L176.77,236.68 L177.10,236.89 L177.44,237.11 L177.77,237.33 L178.11,237.56 L178.44,237.78 L178.78,238.00 L179.12,238.22 L179.45,238.44 L179.79,238.66 L180.12,238.88 L180.46,239.10 L180.79,239.32 L181.13,239.55 L181.46,239.77 L181.80,240.00 L182.13,240.22 L182.47,240.45 L182.80,240.68 L183.14,240.91 L183.48,241.15 L183.81,241.38 L184.15,241.62 L184.48,241.86 L184.82,242.11 L185.15,242.35 L185.49,242.60 L185.82,242.86 L186.16,243.12 L186.49,243.38 L186.83,243.64 L187.16,243.91 L187.50,244.19 L187.84,244.46 L188.17,244.75 L188.51,245.04 L188.84,245.33 L189.18,245.63 L189.51,245.93 L189.85,246.23 L190.18,246.54 L190.52,246.86 L190.85,247.18 L191.19,247.50 L191.52,247.83 L191.86,248.16 L192.20,248.50 L192.53,248.84 L192.87,249.19 L193.20,249.54 L193.54,249.89 L193.87,250.25 L194.21,250.61 L194.54,250.98 L194.88,251.35 L195.21,251.73 L195.55,252.11 L195.88,252.50 L196.22,252.89 L196.56,253.28 L196.89,253.68 L197.23,254.08 L197.56,254.49 L197.90,254.90 L198.23,255.31 L198.57,255.74 L198.90,256.17 L199.24,256.61 L199.57,257.06 L199.91,257.52 L200.24,257.98 L200.58,258.46 L200.92,258.94 L201.25,259.43 L201.59,259.92 L201.92,260.42 L202.26,260.92 L202.59,261.44 L202.93,261.95 L203.26,262.47 L203.60,263.00 L203.93,263.53 L204.27,264.06 L204.60,264.60 L204.94,265.14 L205.28,265.69 L205.61,266.24 L205.95,266.78 L206.28,267.34 L206.62,267.89 L206.95,268.44 L207.29,269.00 L207.62,269.56 L207.96,270.11 L208.29,270.67 L208.63,271.23 L208.96,271.80 L209.30,272.37 L209.64,272.94 L209.97,273.52 L210.31,274.10 L210.64,274.69 L210.98,275.28 L211.31,275.87 L211.65,276.47 L211.98,277.07 L212.32,277.67 L212.65,278.28 L212.99,278.89 L213.33,279.51 L213.66,280.13 L214.00,280.75 L214.33,281.38 L214.67,282.01 L215.00,282.64 L215.34,283.28 L215.67,283.91 L216.01,284.56 L216.34,285.20 L216.68,285.85 L217.01,286.50 L217.35,287.15 L217.69,287.81 L218.02,288.47 L218.36,289.13 L218.69,289.80 L219.03,290.48 L219.36,291.16 L219.70,291.85 L220.03,292.55 L220.37,293.25 L220.70,293.96 L221.04,294.68 L221.37,295.40 L221.71,296.12 L222.05,296.85 L222.38,297.58 L222.72,298.31 L223.05,299.04 L223.39,299.78 L223.72,300.51 L224.06,301.25 L224.39,301.99 L224.73,302.72 L225.06,303.46 L225.40,304.20 L225.73,304.93 L226.07,305.66 L226.41,306.39 L226.74,307.11 L227.08,307.83 L227.41,308.55 L227.75,309.26 L228.08,309.97 L228.42,310.67 L228.75,311.37 L229.09,312.07 L229.42,312.78 L229.76,313.48 L230.09,314.18 L230.43,314.88 L230.77,315.59 L231.10,316.29 L231.44,316.99 L231.77,317.69 L232.11,318.39 L232.44,319.08 L232.78,319.78 L233.11,320.47 L233.45,321.16 L233.78,321.86 L234.12,322.54 L234.45,323.23 L234.79,323.91 L235.13,324.59 L235.46,325.27 L235.80,325.94 L236.13,326.61 L236.47,327.28 L236.80,327.95 L237.14,328.61 L237.47,329.26 L237.81,329.91 L238.14,330.56 L238.48,331.20 L238.81,331.85 L239.15,332.49 L239.49,333.13 L239.82,333.77 L240.16,334.41 L240.49,335.04 L240.83,335.68 L241.16,336.31 L241.50,336.94 L241.83,337.57 L242.17,338.19 L242.50,338.82 L242.84,339.44 L243.17,340.05 L243.51,340.66 L243.85,341.27 L244.18,341.88 L244.52,342.48 L244.85,343.08 L245.19,343.67 L245.52,344.26 L245.86,344.84 L246.19,345.42 L246.53,346.00 L246.86,346.56 L247.20,347.13 L247.54,347.68 L247.87,348.23 L248.21,348.78 L248.54,349.32 L248.88,349.86 L249.21,350.39 L249.55,350.93 L249.88,351.46 L250.22,351.98 L250.55,352.51 L250.89,353.03 L251.22,353.55 L251.56,354.07 L251.90,354.58 L252.23,355.09 L252.57,355.59 L252.90,356.09 L253.24,356.59 L253.57,357.08 L253.91,357.57 L254.24,358.05 L254.58,358.53 L254.91,359.00 L255.25,359.47 L255.58,359.93 L255.92,360.39 L256.26,360.84 L256.59,361.28 L256.93,361.72 L257.26,362.16 L257.60,362.58 L257.93,363.00 L258.27,363.42 L258.60,363.82 L258.94,364.23 L259.27,364.63 L259.61,365.03 L259.94,365.43 L260.28,365.82 L260.62,366.21 L260.95,366.60 L261.29,366.98 L261.62,367.36 L261.96,367.74 L262.29,368.11 L262.63,368.48 L262.96,368.84 L263.30,369.20 L263.63,369.56 L263.97,369.91 L264.30,370.25 L264.64,370.59 L264.98,370.93 L265.31,371.26 L265.65,371.59 L265.98,371.91 L266.32,372.22 L266.65,372.53 L266.99,372.83 L267.32,373.13 L267.66,373.42 L267.99,373.70 L268.33,373.98 L268.66,374.26 L269.00,374.52 L269.34,374.79 L269.67,375.05 L270.01,375.31 L270.34,375.57 L270.68,375.82 L271.01,376.07 L271.35,376.31 L271.68,376.55 L272.02,376.79 L272.35,377.03 L272.69,377.26 L273.02,377.49 L273.36,377.71 L273.70,377.94 L274.03,378.15 L274.37,378.37 L274.70,378.58 L275.04,378.79 L275.37,379.00 L275.71,379.20 L276.04,379.40 L276.38,379.60 L276.71,379.79 L277.05,379.98 L277.38,380.17 L277.72,380.35 L278.06,380.53 L278.39,380.71 L278.73,380.88 L279.06,381.05 L279.40,381.23 L279.73,381.40 L280.07,381.56 L280.40,381.73 L280.74,381.90 L281.07,382.06 L281.41,382.22 L281.75,382.38 L282.08,382.54 L282.42,382.70 L282.75,382.85 L283.09,383.00 L283.42,383.15 L283.76,383.29 L284.09,383.44 L284.43,383.58 L284.76,383.72 L285.10,383.85 L285.43,383.98 L285.77,384.11 L286.11,384.24 L286.44,384.36 L286.78,384.48 L287.11,384.60 L287.45,384.71 L287.78,384.82 L288.12,384.93 L288.45,385.03 L288.79,385.13 L289.12,385.22 L289.46,385.32 L289.79,385.41 L290.13,385.50 L290.47,385.59 L290.80,385.67 L291.14,385.76 L291.47,385.84 L291.81,385.92 L292.14,386.00 L292.48,386.08 L292.81,386.16 L293.15,386.24 L293.48,386.31 L293.82,386.38 L294.15,386.45 L294.49,386.53 L294.83,386.59 L295.16,386.66 L295.50,386.73 L295.83,386.80 L296.17,386.86 L296.50,386.93 L296.84,386.99 L297.17,387.06 L297.51,387.12 L297.84,387.18 L298.18,387.24 L298.51,387.31 L298.85,387.37 L299.19,387.43 L299.52,387.49 L299.86,387.55 L300.19,387.61 L300.53,387.67 L300.86,387.73 L301.20,387.79 L301.53,387.85 L301.87,387.90 L302.20,387.96 L302.54,388.02 L302.87,388.07 L303.21,388.13 L303.55,388.18 L303.88,388.23 L304.22,388.28 L304.55,388.34 L304.89,388.39 L305.22,388.44 L305.56,388.48 L305.89,388.53 L306.23,388.58 L306.56,388.62 L306.90,388.66 L307.23,388.71 L307.57,388.75 L307.91,388.79 L308.24,388.83 L308.58,388.86 L308.91,388.90 L309.25,388.94 L309.58,388.97 L309.92,389.01 L310.25,389.04 L310.59,389.07 L310.92,389.11 L311.26,389.14 L311.59,389.17 L311.93,389.21 L312.27,389.24 L312.60,389.27 L312.94,389.30 L313.27,389.33 L313.61,389.36 L313.94,389.38 L314.28,389.41 L314.61,389.44 L314.95,389.47 L315.28,389.49 L315.62,389.52 L315.96,389.54 L316.29,389.56 L316.63,389.59 L316.96,389.61 L317.30,389.63 L317.63,389.65 L317.97,389.67 L318.30,389.69 L318.64,389.70 L318.97,389.72 L319.31,389.74 L319.64,389.75 L319.98,389.77 L320.32,389.78 L320.65,389.80 L320.99,389.82 L321.32,389.83 L321.66,389.85 L321.99,389.86 L322.33,389.88 L322.66,389.89 L323.00,389.90 L323.33,389.92 L323.67,389.93 L324.00,389.94 L324.34,389.95 L324.68,389.97 L325.01,389.98 L325.35,389.99 L325.68,390.00 L326.02,390.01 L326.35,390.02 L326.69,390.02 L327.02,390.03 L327.36,390.04 L327.69,390.05 L328.03,390.05 L328.36,390.06 L328.70,390.06" stroke="#00f" stroke-width="1.10" stroke-dasharray="11.9 6.2 3.4 6.2"/>
<path d="M127.80,277.37 L128.14,277.39 L128.47,277.40 L128.81,277.42 L129.14,277.44 L129.48,277.45 L129.81,277.47 L130.15,277.49 L130.48,277.50 L130.82,277.52 L131.15,277.54 L131.49,277.56 L131.82,277.57 L132.16,277.59 L132.50,277.61 L132.83,277.63 L133.17,277.65 L133.50,277.66 L133.84,277.68 L134.17,277.70 L134.51,277.72 L134.84,277.74 L135.18,277.76 L135.51,277.78 L135.85,277.80 L136.18,277.82 L136.52,277.83 L136.86,277.85 L137.19,277.87 L137.53,277.89 L137.86,277.91 L138.20,277.93 L138.53,277.95 L138.87,277.98 L139.20,278.00 L139.54,278.02 L139.87,278.04 L140.21,278.06 L140.54,278.08 L140.88,278.10 L141.22,278.12 L141.55,278.14 L141.89,278.16 L142.22,278.19 L142.56,278.21 L142.89,278.23 L143.23,278.25 L143.56,278.27 L143.90,278.29 L144.23,278.32 L144.57,278.34 L144.91,278.36 L145.24,278.38 L145.58,278.41 L145.91,278.43 L146.25,278.45 L146.58,278.48 L146.92,278.50 L147.25,278.52 L147.59,278.54 L147.92,278.57 L148.26,278.59 L148.59,278.61 L148.93,278.64 L149.27,278.66 L149.60,278.69 L149.94,278.71 L150.27,278.74 L150.61,278.76 L150.94,278.79 L151.28,278.81 L151.61,278.84 L151.95,278.87 L152.28,278.89 L152.62,278.92 L152.95,278.95 L153.29,278.97 L153.63,279.00 L153.96,279.03 L154.30,279.06 L154.63,279.08 L154.97,279.11 L155.30,279.14 L155.64,279.17 L155.97,279.20 L156.31,279.23 L156.64,279.25 L156.98,279.28 L157.31,279.31 L157.65,279.34 L157.99,279.37 L158.32,279.40 L158.66,279.43 L158.99,279.46 L159.33,279.49 L159.66,279.52 L160.00,279.55 L160.33,279.58 L160.67,279.60 L161.00,279.63 L161.34,279.66 L161.67,279.69 L162.01,279.72 L162.35,279.75 L162.68,279.78 L163.02,279.81 L163.35,279.84 L163.69,279.87 L164.02,279.90 L164.36,279.93 L164.69,279.96 L165.03,279.99 L165.36,280.01 L165.70,280.04 L166.03,280.07 L166.37,280.10 L166.71,280.13 L167.04,280.16 L167.38,280.19 L167.71,280.21 L168.05,280.24 L168.38,280.27 L168.72,280.30 L169.05,280.32 L169.39,280.35 L169.72,280.38 L170.06,280.41 L170.39,280.43 L170.73,280.46 L171.07,280.49 L171.40,280.52 L171.74,280.54 L172.07,280.57 L172.41,280.60 L172.74,280.62 L173.08,280.65 L173.41,280.68 L173.75,280.70 L174.08,280.73 L174.42,280.76 L174.75,280.78 L175.09,280.81 L175.43,280.84 L175.76,280.86 L176.10,280.89 L176.43,280.92 L176.77,280.94 L177.10,280.97 L177.44,281.00 L177.77,281.03 L178.11,281.05 L178.44,281.08 L178.78,281.11 L179.12,281.13 L179.45,281.16 L179.79,281.19 L180.12,281.22 L180.46,281.24 L180.79,281.27 L181.13,281.30 L181.46,281.33 L181.80,281.35 L182.13,281.38 L182.47,281.41 L182.80,281.44 L183.14,281.47 L183.48,281.50 L183.81,281.53 L184.15,281.55 L184.48,281.58 L184.82,281.61 L185.15,281.64 L185.49,281.67 L185.82,281.70 L186.16,281.73 L186.49,281.76 L186.83,281.79 L187.16,281.82 L187.50,281.85 L187.84,281.89 L188.17,281.92 L188.51,281.95 L188.84,281.98 L189.18,282.01 L189.51,282.04 L189.85,282.08 L190.18,282.11 L190.52,282.14 L190.85,282.17 L191.19,282.20 L191.52,282.24 L191.86,282.27 L192.20,282.30 L192.53,282.34 L192.87,282.37 L193.20,282.40 L193.54,282.43 L193.87,282.47 L194.21,282.50 L194.54,282.54 L194.88,282.57 L195.21,282.60 L195.55,282.64 L195.88,282.67 L196.22,282.71 L196.56,282.74 L196.89,282.78 L197.23,282.81 L197.56,282.85 L197.90,282.88 L198.23,282.92 L198.57,282.95 L198.90,282.99 L199.24,283.03 L199.57,283.06 L199.91,283.10 L200.24,283.13 L200.58,283.17 L200.92,283.21 L201.25,283.25 L201.59,283.28 L201.92,283.32 L202.26,283.36 L202.59,283.40 L202.93,283.43 L203.26,283.47 L203.60,283.51 L203.93,283.55 L204.27,283.59 L204.60,283.63 L204.94,283.67 L205.28,283.71 L205.61,283.75 L205.95,283.79 L206.28,283.83 L206.62,283.87 L206.95,283.91 L207.29,283.95 L207.62,283.99 L207.96,284.03 L208.29,284.07 L208.63,284.11 L208.96,284.16 L209.30,284.20 L209.64,284.24 L209.97,284.28 L210.31,284.33 L210.64,284.37 L210.98,284.41 L211.31,284.46 L211.65,284.50 L211.98,284.55 L212.32,284.59 L212.65,284.64 L212.99,284.69 L213.33,284.73 L213.66,284.78 L214.00,284.83 L214.33,284.88 L214.67,284.93 L215.00,284.98 L215.34,285.03 L215.67,285.08 L216.01,285.13 L216.34,285.18 L216.68,285.24 L217.01,285.29 L217.35,285.35 L217.69,285.40 L218.02,285.46 L218.36,285.51 L218.69,285.57 L219.03,285.63 L219.36,285.69 L219.70,285.76 L220.03,285.82 L220.37,285.89 L220.70,285.95 L221.04,286.02 L221.37,286.09 L221.71,286.16 L222.05,286.23 L222.38,286.30 L222.72,286.37 L223.05,286.44 L223.39,286.52 L223.72,286.59 L224.06,286.67 L224.39,286.74 L224.73,286.82 L225.06,286.89 L225.40,286.97 L225.73,287.05 L226.07,287.13 L226.41,287.20 L226.74,287.28 L227.08,287.36 L227.41,287.44 L227.75,287.52 L228.08,287.60 L228.42,287.68 L228.75,287.76 L229.09,287.84 L229.42,287.92 L229.76,288.00 L230.09,288.08 L230.43,288.16 L230.77,288.24 L231.10,288.33 L231.44,288.41 L231.77,288.49 L232.11,288.58 L232.44,288.66 L232.78,288.75 L233.11,288.84 L233.45,288.92 L233.78,289.01 L234.12,289.10 L234.45,289.19 L234.79,289.28 L235.13,289.37 L235.46,289.46 L235.80,289.55 L236.13,289.65 L236.47,289.74 L236.80,289.83 L237.14,289.93 L237.47,290.03 L237.81,290.12 L238.14,290.22 L238.48,290.32 L238.81,290.42 L239.15,290.52 L239.49,290.62 L239.82,290.72 L240.16,290.82 L240.49,290.93 L240.83,291.03 L241.16,291.14 L241.50,291.24 L241.83,291.35 L242.17,291.46 L242.50,291.57 L242.84,291.67 L243.17,291.79 L243.51,291.90 L243.85,292.01 L244.18,292.12 L244.52,292.24 L244.85,292.35 L245.19,292.47 L245.52,292.59 L245.86,292.70 L246.19,292.82 L246.53,292.94 L246.86,293.06 L247.20,293.18 L247.54,293.31 L247.87,293.43 L248.21,293.56 L248.54,293.68 L248.88,293.81 L249.21,293.94 L249.55,294.06 L249.88,294.19 L250.22,294.32 L250.55,294.45 L250.89,294.59 L251.22,294.72 L251.56,294.86 L251.90,294.99 L252.23,295.13 L252.57,295.27 L252.90,295.41 L253.24,295.55 L253.57,295.69 L253.91,295.83 L254.24,295.98 L254.58,296.12 L254.91,296.27 L255.25,296.42 L255.58,296.57 L255.92,296.73 L256.26,296.88 L256.59,297.04 L256.93,297.20 L257.26,297.36 L257.60,297.52 L257.93,297.68 L258.27,297.85 L258.60,298.01 L258.94,298.18 L259.27,298.36 L259.61,298.53 L259.94,298.71 L260.28,298.89 L260.62,299.07 L260.95,299.26 L261.29,299.45 L261.62,299.64 L261.96,299.83 L262.29,300.03 L262.63,300.22 L262.96,300.42 L263.30,300.62 L263.63,300.82 L263.97,301.03 L264.30,301.23 L264.64,301.44 L264.98,301.65 L265.31,301.86 L265.65,302.07 L265.98,302.28 L266.32,302.50 L266.65,302.71 L266.99,302.93 L267.32,303.15 L267.66,303.37 L267.99,303.59 L268.33,303.81 L268.66,304.03 L269.00,304.25 L269.34,304.47 L269.67,304.70 L270.01,304.93 L270.34,305.16 L270.68,305.39 L271.01,305.63 L271.35,305.86 L271.68,306.10 L272.02,306.34 L272.35,306.58 L272.69,306.82 L273.02,307.07 L273.36,307.31 L273.70,307.56 L274.03,307.81 L274.37,308.06 L274.70,308.31 L275.04,308.57 L275.37,308.82 L275.71,309.08 L276.04,309.34 L276.38,309.60 L276.71,309.87 L277.05,310.13 L277.38,310.40 L277.72,310.67 L278.06,310.93 L278.39,311.21 L278.73,311.48 L279.06,311.75 L279.40,312.03 L279.73,312.31 L280.07,312.59 L280.40,312.87 L280.74,313.15 L281.07,313.43 L281.41,313.72 L281.75,314.01 L282.08,314.30 L282.42,314.59 L282.75,314.89 L283.09,315.18 L283.42,315.48 L283.76,315.79 L284.09,316.09 L284.43,316.40 L284.76,316.70 L285.10,317.02 L285.43,317.33 L285.77,317.65 L286.11,317.97 L286.44,318.29 L286.78,318.61 L287.11,318.94 L287.45,319.27 L287.78,319.60 L288.12,319.94 L288.45,320.28 L288.79,320.62 L289.12,320.96 L289.46,321.31 L289.79,321.65 L290.13,322.00 L290.47,322.35 L290.80,322.70 L291.14,323.06 L291.47,323.42 L291.81,323.78 L292.14,324.14 L292.48,324.51 L292.81,324.88 L293.15,325.26 L293.48,325.64 L293.82,326.02 L294.15,326.41 L294.49,326.80 L294.83,327.20 L295.16,327.60 L295.50,328.01 L295.83,328.43 L296.17,328.85 L296.50,329.28 L296.84,329.71 L297.17,330.15 L297.51,330.59 L297.84,331.05 L298.18,331.51 L298.51,331.97 L298.85,332.45 L299.19,332.94 L299.52,333.45 L299.86,333.96 L300.19,334.49 L300.53,335.03 L300.86,335.58 L301.20,336.14 L301.53,336.71 L301.87,337.29 L302.20,337.88 L302.54,338.47 L302.87,339.07 L303.21,339.68 L303.55,340.30 L303.88,340.92 L304.22,341.55 L304.55,342.18 L304.89,342.81 L305.22,343.45 L305.56,344.09 L305.89,344.73 L306.23,345.38 L306.56,346.02 L306.90,346.67 L307.23,347.31 L307.57,347.96 L307.91,348.60 L308.24,349.25 L308.58,349.89 L308.91,350.53 L309.25,351.17 L309.58,351.81 L309.92,352.46 L310.25,353.10 L310.59,353.75 L310.92,354.41 L311.26,355.06 L311.59,355.72 L311.93,356.38 L312.27,357.04 L312.60,357.71 L312.94,358.38 L313.27,359.06 L313.61,359.73 L313.94,360.42 L314.28,361.10 L314.61,361.79 L314.95,362.49 L315.28,363.18 L315.62,363.89 L315.96,364.60 L316.29,365.31 L316.63,366.03 L316.96,366.75 L317.30,367.48 L317.63,368.21 L317.97,368.95 L318.30,369.70 L318.64,370.45 L318.97,371.22 L319.31,372.04 L319.64,372.90 L319.98,373.79 L320.32,374.69 L320.65,375.62 L320.99,376.55 L321.32,377.48 L321.66,378.41 L321.99,379.32 L322.33,380.21 L322.66,381.08 L323.00,381.91 L323.33,382.70 L323.67,383.43 L324.00,384.11 L324.34,384.73 L324.68,385.28 L325.01,385.78 L325.35,386.26 L325.68,386.73 L326.02,387.18 L326.35,387.60 L326.69,388.01 L327.02,388.39 L327.36,388.74 L327.69,389.06 L328.03,389.35 L328.36,389.60 L328.70,389.82" stroke="#68c040" stroke-width="1.10" stroke-dasharray="5.8 6.2"/>
</g>
<rect x="91.8" y="13.3" width="502.90000000000003" height="419.0" fill="none" stroke="#000" stroke-width="0.42"/>
<rect x="127.8" y="199.3" width="200.89999999999998" height="191.0" fill="none" stroke="#000" stroke-width="0.42"/>
<g stroke="#000">
<line x1="91.80" y1="432.30" x2="91.80" y2="426.10" stroke-width="0.65"/>
<line x1="91.80" y1="13.30" x2="91.80" y2="19.50" stroke-width="0.65"/>
<line x1="116.94" y1="432.30" x2="116.94" y2="429.20" stroke-width="0.42"/>
<line x1="116.94" y1="13.30" x2="116.94" y2="16.40" stroke-width="0.42"/>
<line x1="142.09" y1="432.30" x2="142.09" y2="429.20" stroke-width="0.42"/>
<line x1="142.09" y1="13.30" x2="142.09" y2="16.40" stroke-width="0.42"/>
<line x1="167.24" y1="432.30" x2="167.24" y2="429.20" stroke-width="0.42"/>
<line x1="167.24" y1="13.30" x2="167.24" y2="16.40" stroke-width="0.42"/>
<line x1="192.38" y1="432.30" x2="192.38" y2="429.20" stroke-width="0.42"/>
<line x1="192.38" y1="13.30" x2="192.38" y2="16.40" stroke-width="0.42"/>
<line x1="217.50" y1="432.30" x2="217.50" y2="426.10" stroke-width="0.8"/>
<line x1="217.50" y1="13.30" x2="217.50" y2="19.50" stroke-width="0.8"/>
<line x1="242.67" y1="432.30" x2="242.67" y2="429.20" stroke-width="0.42"/>
<line x1="242.67" y1="13.30" x2="242.67" y2="16.40" stroke-width="0.42"/>
<line x1="267.81" y1="432.30" x2="267.81" y2="429.20" stroke-width="0.42"/>
<line x1="267.81" y1="13.30" x2="267.81" y2="16.40" stroke-width="0.42"/>
<line x1="292.96" y1="432.30" x2="292.96" y2="429.20" stroke-width="0.42"/>
<line x1="292.96" y1="13.30" x2="292.96" y2="16.40" stroke-width="0.42"/>
<line x1="318.11" y1="432.30" x2="318.11" y2="429.20" stroke-width="0.42"/>
<line x1="318.11" y1="13.30" x2="318.11" y2="16.40" stroke-width="0.42"/>
<line x1="343.50" y1="432.30" x2="343.50" y2="426.10" stroke-width="0.8"/>
<line x1="343.50" y1="13.30" x2="343.50" y2="19.50" stroke-width="0.8"/>
<line x1="368.40" y1="432.30" x2="368.40" y2="429.20" stroke-width="0.42"/>
<line x1="368.40" y1="13.30" x2="368.40" y2="16.40" stroke-width="0.42"/>
<line x1="393.54" y1="432.30" x2="393.54" y2="429.20" stroke-width="0.42"/>
<line x1="393.54" y1="13.30" x2="393.54" y2="16.40" stroke-width="0.42"/>
<line x1="418.69" y1="432.30" x2="418.69" y2="429.20" stroke-width="0.42"/>
<line x1="418.69" y1="13.30" x2="418.69" y2="16.40" stroke-width="0.42"/>
<line x1="443.83" y1="432.30" x2="443.83" y2="429.20" stroke-width="0.42"/>
<line x1="443.83" y1="13.30" x2="443.83" y2="16.40" stroke-width="0.42"/>
<line x1="468.50" y1="432.30" x2="468.50" y2="426.10" stroke-width="0.8"/>
<line x1="468.50" y1="13.30" x2="468.50" y2="19.50" stroke-width="0.8"/>
<line x1="494.12" y1="432.30" x2="494.12" y2="429.20" stroke-width="0.42"/>
<line x1="494.12" y1="13.30" x2="494.12" y2="16.40" stroke-width="0.42"/>
<line x1="519.27" y1="432.30" x2="519.27" y2="429.20" stroke-width="0.42"/>
<line x1="519.27" y1="13.30" x2="519.27" y2="16.40" stroke-width="0.42"/>
<line x1="544.41" y1="432.30" x2="544.41" y2="429.20" stroke-width="0.42"/>
<line x1="544.41" y1="13.30" x2="544.41" y2="16.40" stroke-width="0.42"/>
<line x1="569.56" y1="432.30" x2="569.56" y2="429.20" stroke-width="0.42"/>
<line x1="569.56" y1="13.30" x2="569.56" y2="16.40" stroke-width="0.42"/>
<line x1="594.70" y1="432.30" x2="594.70" y2="426.10" stroke-width="0.65"/>
<line x1="594.70" y1="13.30" x2="594.70" y2="19.50" stroke-width="0.65"/>
<line x1="91.80" y1="13.30" x2="98.00" y2="13.30" stroke-width="0.65"/>
<line x1="594.70" y1="13.30" x2="588.50" y2="13.30" stroke-width="0.65"/>
<line x1="91.80" y1="65.67" x2="98.00" y2="65.67" stroke-width="0.65"/>
<line x1="594.70" y1="65.67" x2="588.50" y2="65.67" stroke-width="0.65"/>
<line x1="91.80" y1="118.05" x2="98.00" y2="118.05" stroke-width="0.65"/>
<line x1="594.70" y1="118.05" x2="588.50" y2="118.05" stroke-width="0.65"/>
<line x1="91.80" y1="170.43" x2="98.00" y2="170.43" stroke-width="0.65"/>
<line x1="594.70" y1="170.43" x2="588.50" y2="170.43" stroke-width="0.65"/>
<line x1="91.80" y1="222.80" x2="98.00" y2="222.80" stroke-width="0.65"/>
<line x1="594.70" y1="222.80" x2="588.50" y2="222.80" stroke-width="0.65"/>
<line x1="91.80" y1="275.18" x2="98.00" y2="275.18" stroke-width="0.65"/>
<line x1="594.70" y1="275.18" x2="588.50" y2="275.18" stroke-width="0.65"/>
<line x1="91.80" y1="327.55" x2="98.00" y2="327.55" stroke-width="0.65"/>
<line x1="594.70" y1="327.55" x2="588.50" y2="327.55" stroke-width="0.65"/>
<line x1="91.80" y1="379.93" x2="98.00" y2="379.93" stroke-width="0.65"/>
<line x1="594.70" y1="379.93" x2="588.50" y2="379.93" stroke-width="0.65"/>
<line x1="91.80" y1="432.30" x2="98.00" y2="432.30" stroke-width="0.65"/>
<line x1="594.70" y1="432.30" x2="588.50" y2="432.30" stroke-width="0.65"/>
<line x1="91.80" y1="49.91" x2="94.90" y2="49.91" stroke-width="0.42"/>
<line x1="594.70" y1="49.91" x2="591.60" y2="49.91" stroke-width="0.42"/>
<line x1="91.80" y1="40.69" x2="94.90" y2="40.69" stroke-width="0.42"/>
<line x1="594.70" y1="40.69" x2="591.60" y2="40.69" stroke-width="0.42"/>
<line x1="91.80" y1="34.14" x2="94.90" y2="34.14" stroke-width="0.42"/>
<line x1="594.70" y1="34.14" x2="591.60" y2="34.14" stroke-width="0.42"/>
<line x1="91.80" y1="29.07" x2="94.90" y2="29.07" stroke-width="0.42"/>
<line x1="594.70" y1="29.07" x2="591.60" y2="29.07" stroke-width="0.42"/>
<line x1="91.80" y1="24.92" x2="94.90" y2="24.92" stroke-width="0.42"/>
<line x1="594.70" y1="24.92" x2="591.60" y2="24.92" stroke-width="0.42"/>
<line x1="91.80" y1="21.41" x2="94.90" y2="21.41" stroke-width="0.42"/>
<line x1="594.70" y1="21.41" x2="591.60" y2="21.41" stroke-width="0.42"/>
<line x1="91.80" y1="18.38" x2="94.90" y2="18.38" stroke-width="0.42"/>
<line x1="594.70" y1="18.38" x2="591.60" y2="18.38" stroke-width="0.42"/>
<line x1="91.80" y1="15.70" x2="94.90" y2="15.70" stroke-width="0.42"/>
<line x1="594.70" y1="15.70" x2="591.60" y2="15.70" stroke-width="0.42"/>
<line x1="91.80" y1="102.28" x2="94.90" y2="102.28" stroke-width="0.42"/>
<line x1="594.70" y1="102.28" x2="591.60" y2="102.28" stroke-width="0.42"/>
<line x1="91.80" y1="93.06" x2="94.90" y2="93.06" stroke-width="0.42"/>
<line x1="594.70" y1="93.06" x2="591.60" y2="93.06" stroke-width="0.42"/>
<line x1="91.80" y1="86.52" x2="94.90" y2="86.52" stroke-width="0.42"/>
<line x1="594.70" y1="86.52" x2="591.60" y2="86.52" stroke-width="0.42"/>
<line x1="91.80" y1="81.44" x2="94.90" y2="81.44" stroke-width="0.42"/>
<line x1="594.70" y1="81.44" x2="591.60" y2="81.44" stroke-width="0.42"/>
<line x1="91.80" y1="77.29" x2="94.90" y2="77.29" stroke-width="0.42"/>
<line x1="594.70" y1="77.29" x2="591.60" y2="77.29" stroke-width="0.42"/>
<line x1="91.80" y1="73.79" x2="94.90" y2="73.79" stroke-width="0.42"/>
<line x1="594.70" y1="73.79" x2="591.60" y2="73.79" stroke-width="0.42"/>
<line x1="91.80" y1="70.75" x2="94.90" y2="70.75" stroke-width="0.42"/>
<line x1="594.70" y1="70.75" x2="591.60" y2="70.75" stroke-width="0.42"/>
<line x1="91.80" y1="68.07" x2="94.90" y2="68.07" stroke-width="0.42"/>
<line x1="594.70" y1="68.07" x2="591.60" y2="68.07" stroke-width="0.42"/>
<line x1="91.80" y1="154.66" x2="94.90" y2="154.66" stroke-width="0.42"/>
<line x1="594.70" y1="154.66" x2="591.60" y2="154.66" stroke-width="0.42"/>
<line x1="91.80" y1="145.44" x2="94.90" y2="145.44" stroke-width="0.42"/>
<line x1="594.70" y1="145.44" x2="591.60" y2="145.44" stroke-width="0.42"/>
<line x1="91.80" y1="138.89" x2="94.90" y2="138.89" stroke-width="0.42"/>
<line x1="594.70" y1="138.89" x2="591.60" y2="138.89" stroke-width="0.42"/>
<line x1="91.80" y1="133.82" x2="94.90" y2="133.82" stroke-width="0.42"/>
<line x1="594.70" y1="133.82" x2="591.60" y2="133.82" stroke-width="0.42"/>
<line x1="91.80" y1="129.67" x2="94.90" y2="129.67" stroke-width="0.42"/>
<line x1="594.70" y1="129.67" x2="591.60" y2="129.67" stroke-width="0.42"/>
<line x1="91.80" y1="126.16" x2="94.90" y2="126.16" stroke-width="0.42"/>
<line x1="594.70" y1="126.16" x2="591.60" y2="126.16" stroke-width="0.42"/>
<line x1="91.80" y1="123.13" x2="94.90" y2="123.13" stroke-width="0.42"/>
<line x1="594.70" y1="123.13" x2="591.60" y2="123.13" stroke-width="0.42"/>
<line x1="91.80" y1="120.45" x2="94.90" y2="120.45" stroke-width="0.42"/>
<line x1="594.70" y1="120.45" x2="591.60" y2="120.45" stroke-width="0.42"/>
<line x1="91.80" y1="207.03" x2="94.90" y2="207.03" stroke-width="0.42"/>
<line x1="594.70" y1="207.03" x2="591.60" y2="207.03" stroke-width="0.42"/>
<line x1="91.80" y1="197.81" x2="94.90" y2="197.81" stroke-width="0.42"/>
<line x1="594.70" y1="197.81" x2="591.60" y2="197.81" stroke-width="0.42"/>
<line x1="91.80" y1="191.27" x2="94.90" y2="191.27" stroke-width="0.42"/>
<line x1="594.70" y1="191.27" x2="591.60" y2="191.27" stroke-width="0.42"/>
<line x1="91.80" y1="186.19" x2="94.90" y2="186.19" stroke-width="0.42"/>
<line x1="594.70" y1="186.19" x2="591.60" y2="186.19" stroke-width="0.42"/>
<line x1="91.80" y1="182.04" x2="94.90" y2="182.04" stroke-width="0.42"/>
<line x1="594.70" y1="182.04" x2="591.60" y2="182.04" stroke-width="0.42"/>
<line x1="91.80" y1="178.54" x2="94.90" y2="178.54" stroke-width="0.42"/>
<line x1="594.70" y1="178.54" x2="591.60" y2="178.54" stroke-width="0.42"/>
<line x1="91.80" y1="175.50" x2="94.90" y2="175.50" stroke-width="0.42"/>
<line x1="594.70" y1="175.50" x2="591.60" y2="175.50" stroke-width="0.42"/>
<line x1="91.80" y1="172.82" x2="94.90" y2="172.82" stroke-width="0.42"/>
<line x1="594.70" y1="172.82" x2="591.60" y2="172.82" stroke-width="0.42"/>
<line x1="91.80" y1="259.41" x2="94.90" y2="259.41" stroke-width="0.42"/>
<line x1="594.70" y1="259.41" x2="591.60" y2="259.41" stroke-width="0.42"/>
<line x1="91.80" y1="250.19" x2="94.90" y2="250.19" stroke-width="0.42"/>
<line x1="594.70" y1="250.19" x2="591.60" y2="250.19" stroke-width="0.42"/>
<line x1="91.80" y1="243.64" x2="94.90" y2="243.64" stroke-width="0.42"/>
<line x1="594.70" y1="243.64" x2="591.60" y2="243.64" stroke-width="0.42"/>
<line x1="91.80" y1="238.57" x2="94.90" y2="238.57" stroke-width="0.42"/>
<line x1="594.70" y1="238.57" x2="591.60" y2="238.57" stroke-width="0.42"/>
<line x1="91.80" y1="234.42" x2="94.90" y2="234.42" stroke-width="0.42"/>
<line x1="594.70" y1="234.42" x2="591.60" y2="234.42" stroke-width="0.42"/>
<line x1="91.80" y1="230.91" x2="94.90" y2="230.91" stroke-width="0.42"/>
<line x1="594.70" y1="230.91" x2="591.60" y2="230.91" stroke-width="0.42"/>
<line x1="91.80" y1="227.88" x2="94.90" y2="227.88" stroke-width="0.42"/>
<line x1="594.70" y1="227.88" x2="591.60" y2="227.88" stroke-width="0.42"/>
<line x1="91.80" y1="225.20" x2="94.90" y2="225.20" stroke-width="0.42"/>
<line x1="594.70" y1="225.20" x2="591.60" y2="225.20" stroke-width="0.42"/>
<line x1="91.80" y1="311.78" x2="94.90" y2="311.78" stroke-width="0.42"/>
<line x1="594.70" y1="311.78" x2="591.60" y2="311.78" stroke-width="0.42"/>
<line x1="91.80" y1="302.56" x2="94.90" y2="302.56" stroke-width="0.42"/>
<line x1="594.70" y1="302.56" x2="591.60" y2="302.56" stroke-width="0.42"/>
<line x1="91.80" y1="296.02" x2="94.90" y2="296.02" stroke-width="0.42"/>
<line x1="594.70" y1="296.02" x2="591.60" y2="296.02" stroke-width="0.42"/>
<line x1="91.80" y1="290.94" x2="94.90" y2="290.94" stroke-width="0.42"/>
<line x1="594.70" y1="290.94" x2="591.60" y2="290.94" stroke-width="0.42"/>
<line x1="91.80" y1="286.79" x2="94.90" y2="286.79" stroke-width="0.42"/>
<line x1="594.70" y1="286.79" x2="591.60" y2="286.79" stroke-width="0.42"/>
<line x1="91.80" y1="283.29" x2="94.90" y2="283.29" stroke-width="0.42"/>
<line x1="594.70" y1="283.29" x2="591.60" y2="283.29" stroke-width="0.42"/>
<line x1="91.80" y1="280.25" x2="94.90" y2="280.25" stroke-width="0.42"/>
<line x1="594.70" y1="280.25" x2="591.60" y2="280.25" stroke-width="0.42"/>
<line x1="91.80" y1="277.57" x2="94.90" y2="277.57" stroke-width="0.42"/>
<line x1="594.70" y1="277.57" x2="591.60" y2="277.57" stroke-width="0.42"/>
<line x1="91.80" y1="364.16" x2="94.90" y2="364.16" stroke-width="0.42"/>
<line x1="594.70" y1="364.16" x2="591.60" y2="364.16" stroke-width="0.42"/>
<line x1="91.80" y1="354.94" x2="94.90" y2="354.94" stroke-width="0.42"/>
<line x1="594.70" y1="354.94" x2="591.60" y2="354.94" stroke-width="0.42"/>
<line x1="91.80" y1="348.39" x2="94.90" y2="348.39" stroke-width="0.42"/>
<line x1="594.70" y1="348.39" x2="591.60" y2="348.39" stroke-width="0.42"/>
<line x1="91.80" y1="343.32" x2="94.90" y2="343.32" stroke-width="0.42"/>
<line x1="594.70" y1="343.32" x2="591.60" y2="343.32" stroke-width="0.42"/>
<line x1="91.80" y1="339.17" x2="94.90" y2="339.17" stroke-width="0.42"/>
<line x1="594.70" y1="339.17" x2="591.60" y2="339.17" stroke-width="0.42"/>
<line x1="91.80" y1="335.66" x2="94.90" y2="335.66" stroke-width="0.42"/>
<line x1="594.70" y1="335.66" x2="591.60" y2="335.66" stroke-width="0.42"/>
<line x1="91.80" y1="332.63" x2="94.90" y2="332.63" stroke-width="0.42"/>
<line x1="594.70" y1="332.63" x2="591.60" y2="332.63" stroke-width="0.42"/>
<line x1="91.80" y1="329.95" x2="94.90" y2="329.95" stroke-width="0.42"/>
<line x1="594.70" y1="329.95" x2="591.60" y2="329.95" stroke-width="0.42"/>
<line x1="91.80" y1="416.53" x2="94.90" y2="416.53" stroke-width="0.42"/>
<line x1="594.70" y1="416.53" x2="591.60" y2="416.53" stroke-width="0.42"/>
<line x1="91.80" y1="407.31" x2="94.90" y2="407.31" stroke-width="0.42"/>
<line x1="594.70" y1="407.31" x2="591.60" y2="407.31" stroke-width="0.42"/>
<line x1="91.80" y1="400.77" x2="94.90" y2="400.77" stroke-width="0.42"/>
<line x1="594.70" y1="400.77" x2="591.60" y2="400.77" stroke-width="0.42"/>
<line x1="91.80" y1="395.69" x2="94.90" y2="395.69" stroke-width="0.42"/>
<line x1="594.70" y1="395.69" x2="591.60" y2="395.69" stroke-width="0.42"/>
<line x1="91.80" y1="391.54" x2="94.90" y2="391.54" stroke-width="0.42"/>
<line x1="594.70" y1="391.54" x2="591.60" y2="391.54" stroke-width="0.42"/>
<line x1="91.80" y1="388.04" x2="94.90" y2="388.04" stroke-width="0.42"/>
<line x1="594.70" y1="388.04" x2="591.60" y2="388.04" stroke-width="0.42"/>
<line x1="91.80" y1="385.00" x2="94.90" y2="385.00" stroke-width="0.42"/>
<line x1="594.70" y1="385.00" x2="591.60" y2="385.00" stroke-width="0.42"/>
<line x1="91.80" y1="382.32" x2="94.90" y2="382.32" stroke-width="0.42"/>
<line x1="594.70" y1="382.32" x2="591.60" y2="382.32" stroke-width="0.42"/>
<line x1="127.80" y1="390.30" x2="127.80" y2="385.30" stroke-width="0.65"/>
<line x1="127.80" y1="199.30" x2="127.80" y2="204.30" stroke-width="0.65"/>
<line x1="147.89" y1="390.30" x2="147.89" y2="387.80" stroke-width="0.42"/>
<line x1="147.89" y1="199.30" x2="147.89" y2="201.80" stroke-width="0.42"/>
<line x1="167.98" y1="390.30" x2="167.98" y2="385.30" stroke-width="0.65"/>
<line x1="167.98" y1="199.30" x2="167.98" y2="204.30" stroke-width="0.65"/>
<line x1="188.07" y1="390.30" x2="188.07" y2="387.80" stroke-width="0.42"/>
<line x1="188.07" y1="199.30" x2="188.07" y2="201.80" stroke-width="0.42"/>
<line x1="208.16" y1="390.30" x2="208.16" y2="385.30" stroke-width="0.65"/>
<line x1="208.16" y1="199.30" x2="208.16" y2="204.30" stroke-width="0.65"/>
<line x1="228.25" y1="390.30" x2="228.25" y2="387.80" stroke-width="0.42"/>
<line x1="228.25" y1="199.30" x2="228.25" y2="201.80" stroke-width="0.42"/>
<line x1="248.34" y1="390.30" x2="248.34" y2="385.30" stroke-width="0.65"/>
<line x1="248.34" y1="199.30" x2="248.34" y2="204.30" stroke-width="0.65"/>
<line x1="268.43" y1="390.30" x2="268.43" y2="387.80" stroke-width="0.42"/>
<line x1="268.43" y1="199.30" x2="268.43" y2="201.80" stroke-width="0.42"/>
<line x1="288.52" y1="390.30" x2="288.52" y2="385.30" stroke-width="0.65"/>
<line x1="288.52" y1="199.30" x2="288.52" y2="204.30" stroke-width="0.65"/>
<line x1="308.61" y1="390.30" x2="308.61" y2="387.80" stroke-width="0.42"/>
<line x1="308.61" y1="199.30" x2="308.61" y2="201.80" stroke-width="0.42"/>
<line x1="328.70" y1="390.30" x2="328.70" y2="385.30" stroke-width="0.65"/>
<line x1="328.70" y1="199.30" x2="328.70" y2="204.30" stroke-width="0.65"/>
<line x1="127.80" y1="390.30" x2="132.80" y2="390.30" stroke-width="0.65"/>
<line x1="328.70" y1="390.30" x2="323.70" y2="390.30" stroke-width="0.65"/>
<line x1="127.80" y1="378.36" x2="130.30" y2="378.36" stroke-width="0.42"/>
<line x1="328.70" y1="378.36" x2="326.20" y2="378.36" stroke-width="0.42"/>
<line x1="127.80" y1="366.43" x2="130.30" y2="366.43" stroke-width="0.42"/>
<line x1="328.70" y1="366.43" x2="326.20" y2="366.43" stroke-width="0.42"/>
<line x1="127.80" y1="354.49" x2="130.30" y2="354.49" stroke-width="0.42"/>
<line x1="328.70" y1="354.49" x2="326.20" y2="354.49" stroke-width="0.42"/>
<line x1="127.80" y1="342.55" x2="132.80" y2="342.55" stroke-width="0.65"/>
<line x1="328.70" y1="342.55" x2="323.70" y2="342.55" stroke-width="0.65"/>
<line x1="127.80" y1="330.61" x2="130.30" y2="330.61" stroke-width="0.42"/>
<line x1="328.70" y1="330.61" x2="326.20" y2="330.61" stroke-width="0.42"/>
<line x1="127.80" y1="318.68" x2="130.30" y2="318.68" stroke-width="0.42"/>
<line x1="328.70" y1="318.68" x2="326.20" y2="318.68" stroke-width="0.42"/>
<line x1="127.80" y1="306.74" x2="130.30" y2="306.74" stroke-width="0.42"/>
<line x1="328.70" y1="306.74" x2="326.20" y2="306.74" stroke-width="0.42"/>
<line x1="127.80" y1="294.80" x2="132.80" y2="294.80" stroke-width="0.65"/>
<line x1="328.70" y1="294.80" x2="323.70" y2="294.80" stroke-width="0.65"/>
<line x1="127.80" y1="282.86" x2="130.30" y2="282.86" stroke-width="0.42"/>
<line x1="328.70" y1="282.86" x2="326.20" y2="282.86" stroke-width="0.42"/>
<line x1="127.80" y1="270.93" x2="130.30" y2="270.93" stroke-width="0.42"/>
<line x1="328.70" y1="270.93" x2="326.20" y2="270.93" stroke-width="0.42"/>
<line x1="127.80" y1="258.99" x2="130.30" y2="258.99" stroke-width="0.42"/>
<line x1="328.70" y1="258.99" x2="326.20" y2="258.99" stroke-width="0.42"/>
<line x1="127.80" y1="247.05" x2="132.80" y2="247.05" stroke-width="0.65"/>
<line x1="328.70" y1="247.05" x2="323.70" y2="247.05" stroke-width="0.65"/>
<line x1="127.80" y1="235.11" x2="130.30" y2="235.11" stroke-width="0.42"/>
<line x1="328.70" y1="235.11" x2="326.20" y2="235.11" stroke-width="0.42"/>
<line x1="127.80" y1="223.18" x2="130.30" y2="223.18" stroke-width="0.42"/>
<line x1="328.70" y1="223.18" x2="326.20" y2="223.18" stroke-width="0.42"/>
<line x1="127.80" y1="211.24" x2="130.30" y2="211.24" stroke-width="0.42"/>
<line x1="328.70" y1="211.24" x2="326.20" y2="211.24" stroke-width="0.42"/>
<line x1="127.80" y1="199.30" x2="132.80" y2="199.30" stroke-width="0.65"/>
<line x1="328.70" y1="199.30" x2="323.70" y2="199.30" stroke-width="0.65"/>
</g>
<rect x="56.3" y="108.65" width="6.4" height="1.4" fill="#000"/>
<rect x="56.3" y="161.03" width="6.4" height="1.4" fill="#000"/>
<rect x="56.3" y="213.40" width="6.4" height="1.4" fill="#000"/>
<rect x="56.3" y="265.78" width="6.4" height="1.4" fill="#000"/>
<rect x="56.3" y="318.15" width="6.4" height="1.4" fill="#000"/>
<rect x="56.3" y="370.53" width="6.4" height="1.4" fill="#000"/>
<rect x="56.3" y="422.90" width="6.4" height="1.4" fill="#000"/>
<line x1="491.90" y1="41.00" x2="505.00" y2="41.00" stroke="#000" stroke-width="0.85"/>
<line x1="491.90" y1="45.50" x2="505.00" y2="45.50" stroke="#000" stroke-width="0.85"/>
<line x1="488.20" y1="63.60" x2="501.30" y2="63.60" stroke="#000" stroke-width="0.85"/>
<line x1="488.20" y1="68.10" x2="501.30" y2="68.10" stroke="#000" stroke-width="0.85"/>
<line x1="508.60" y1="86.30" x2="521.70" y2="86.30" stroke="#000" stroke-width="0.85"/>
<line x1="508.60" y1="90.80" x2="521.70" y2="90.80" stroke="#000" stroke-width="0.85"/>
<line x1="495.80" y1="108.90" x2="508.90" y2="108.90" stroke="#000" stroke-width="0.85"/>
<line x1="495.80" y1="113.40" x2="508.90" y2="113.40" stroke="#000" stroke-width="0.85"/>
<rect x="303.7" y="472.8" width="1.4499999999999886" height="24.0" fill="#000"/>
<rect x="342.2" y="472.8" width="1.4499999999999886" height="24.0" fill="#000"/>

<g stroke-linecap="round">
<line x1="365.3" y1="43.3" x2="406.6" y2="43.3" stroke="#000" stroke-width="2.6"/>
<line x1="364.9" y1="65.6" x2="407.0" y2="65.6" stroke="#f00" stroke-width="1.95" stroke-dasharray="12.0 6.2"/>
<line x1="364.95" y1="87.8" x2="407.3" y2="87.8" stroke="#00f" stroke-width="1.3" stroke-dasharray="11.9 6.2 3.4 6.2"/>
<line x1="364.95" y1="109.9" x2="407.3" y2="109.9" stroke="#68c040" stroke-width="1.3" stroke-dasharray="5.8 6.2"/>
</g>

<text transform="matrix(0.22841 0 0 0.21838 46.073 20.213)" font-size="100" font-weight="bold" fill="#000" stroke="#000" stroke-width="1.57">10</text>
<text transform="matrix(0.14524 0 0 0.12941 67.519 8.041)" font-size="100" font-weight="bold" fill="#000" stroke="#000" stroke-width="1.46">1</text>
<text transform="matrix(0.22841 0 0 0.21838 46.073 72.588)" font-size="100" font-weight="bold" fill="#000" stroke="#000" stroke-width="1.57">10</text>
<text transform="matrix(0.14524 0 0 0.12941 67.519 60.416)" font-size="100" font-weight="bold" fill="#000" stroke="#000" stroke-width="1.46">0</text>
<text transform="matrix(0.22841 0 0 0.21838 34.073 124.963)" font-size="100" font-weight="bold" fill="#000" stroke="#000" stroke-width="1.57">10</text>
<text transform="matrix(0.14524 0 0 0.12941 62.369 112.791)" font-size="100" font-weight="bold" fill="#000" stroke="#000" stroke-width="1.46">1</text>
<text transform="matrix(0.22841 0 0 0.21838 34.073 177.338)" font-size="100" font-weight="bold" fill="#000" stroke="#000" stroke-width="1.57">10</text>
<text transform="matrix(0.14524 0 0 0.12941 62.369 165.166)" font-size="100" font-weight="bold" fill="#000" stroke="#000" stroke-width="1.46">2</text>
<text transform="matrix(0.22841 0 0 0.21838 34.073 229.713)" font-size="100" font-weight="bold" fill="#000" stroke="#000" stroke-width="1.57">10</text>
<text transform="matrix(0.14524 0 0 0.12941 62.369 217.541)" font-size="100" font-weight="bold" fill="#000" stroke="#000" stroke-width="1.46">3</text>
<text transform="matrix(0.22841 0 0 0.21838 34.073 282.088)" font-size="100" font-weight="bold" fill="#000" stroke="#000" stroke-width="1.57">10</text>
<text transform="matrix(0.14524 0 0 0.12941 62.369 269.916)" font-size="100" font-weight="bold" fill="#000" stroke="#000" stroke-width="1.46">4</text>
<text transform="matrix(0.22841 0 0 0.21838 34.073 334.463)" font-size="100" font-weight="bold" fill="#000" stroke="#000" stroke-width="1.57">10</text>
<text transform="matrix(0.14524 0 0 0.12941 62.369 322.291)" font-size="100" font-weight="bold" fill="#000" stroke="#000" stroke-width="1.46">5</text>
<text transform="matrix(0.22841 0 0 0.21838 34.073 386.838)" font-size="100" font-weight="bold" fill="#000" stroke="#000" stroke-width="1.57">10</text>
<text transform="matrix(0.14524 0 0 0.12941 62.369 374.666)" font-size="100" font-weight="bold" fill="#000" stroke="#000" stroke-width="1.46">6</text>
<text transform="matrix(0.22841 0 0 0.21838 34.073 439.213)" font-size="100" font-weight="bold" fill="#000" stroke="#000" stroke-width="1.57">10</text>
<text transform="matrix(0.14524 0 0 0.12941 62.369 427.041)" font-size="100" font-weight="bold" fill="#000" stroke="#000" stroke-width="1.46">7</text>
<text transform="matrix(0.24048 0 0 0.21176 85.888 456.926)" font-size="100" font-weight="bold" fill="#000" stroke="#000" stroke-width="1.55">0</text>
<text transform="matrix(0.24048 0 0 0.21176 336.977 456.926)" font-size="100" font-weight="bold" fill="#000" stroke="#000" stroke-width="1.55">1</text>
<text transform="matrix(0.24048 0 0 0.21176 588.788 456.926)" font-size="100" font-weight="bold" fill="#000" stroke="#000" stroke-width="1.55">2</text>
<text transform="matrix(0.20513 0 0 0.21176 204.179 457.176)" font-size="100" font-weight="bold" fill="#000" stroke="#000" stroke-width="1.68">0.5</text>
<text transform="matrix(0.22655 0 0 0.21493 454.888 457.385)" font-size="100" font-weight="bold" fill="#000" stroke="#000" stroke-width="1.59">1.5</text>
<text transform="matrix(0.20000 0 0 0.18676 107.200 396.926)" font-size="100" font-weight="bold" fill="#000" stroke="#000" stroke-width="1.55">0</text>
<text transform="matrix(0.20000 0 0 0.18676 107.200 349.176)" font-size="100" font-weight="bold" fill="#000" stroke="#000" stroke-width="1.55">2</text>
<text transform="matrix(0.20000 0 0 0.18676 106.800 301.426)" font-size="100" font-weight="bold" fill="#000" stroke="#000" stroke-width="1.55">4</text>
<text transform="matrix(0.20000 0 0 0.18676 107.000 253.676)" font-size="100" font-weight="bold" fill="#000" stroke="#000" stroke-width="1.55">6</text>
<text transform="matrix(0.20000 0 0 0.18676 107.000 205.926)" font-size="100" font-weight="bold" fill="#000" stroke="#000" stroke-width="1.55">8</text>
<text transform="matrix(0.20000 0 0 0.18676 122.900 412.176)" font-size="100" font-weight="bold" fill="#000" stroke="#000" stroke-width="1.55">0</text>
<text transform="matrix(0.20000 0 0 0.18676 323.500 412.176)" font-size="100" font-weight="bold" fill="#000" stroke="#000" stroke-width="1.55">1</text>
<text transform="matrix(0.17863 0 0 0.18676 157.015 412.226)" font-size="100" font-weight="bold" fill="#000" stroke="#000" stroke-width="1.64">0.2</text>
<text transform="matrix(0.17563 0 0 0.18676 197.207 412.226)" font-size="100" font-weight="bold" fill="#000" stroke="#000" stroke-width="1.66">0.4</text>
<text transform="matrix(0.17712 0 0 0.18676 237.382 412.226)" font-size="100" font-weight="bold" fill="#000" stroke="#000" stroke-width="1.65">0.6</text>
<text transform="matrix(0.17712 0 0 0.18676 277.562 412.226)" font-size="100" font-weight="bold" fill="#000" stroke="#000" stroke-width="1.65">0.8</text>
<text transform="matrix(0.17885 0 0 0.20000 418.163 48.000)" font-size="100"  fill="#000">L</text>
<text transform="matrix(0.17333 0 0 0.12254 428.480 50.100)" font-size="100"  fill="#000">f</text>
<text transform="matrix(0.09535 0 0 0.09559 434.319 52.909)" font-size="100"  fill="#000">6</text>
<text transform="matrix(0.16923 0 0 0.23000 441.723 48.470)" font-size="100"  fill="#000">(</text>
<text transform="matrix(0.13636 0 0 0.12941 448.173 41.741)" font-size="100"  fill="#000">16</text>
<text transform="matrix(0.21406 0 0 0.20882 462.244 47.882)" font-size="100"  fill="#000">O</text>
<text transform="matrix(0.16923 0 0 0.23000 478.592 48.470)" font-size="100"  fill="#000">)</text>
<text transform="matrix(0.19476 0 0 0.19706 511.410 47.906)" font-size="100"  fill="#000">4.3601</text>
<text transform="matrix(0.17885 0 0 0.20000 418.163 70.600)" font-size="100"  fill="#000">L</text>
<text transform="matrix(0.16286 0 0 0.14242 429.074 73.958)" font-size="100"  fill="#000">J</text>
<text transform="matrix(0.16923 0 0 0.23000 437.923 71.070)" font-size="100"  fill="#000">(</text>
<text transform="matrix(0.13636 0 0 0.12941 444.373 64.341)" font-size="100"  fill="#000">16</text>
<text transform="matrix(0.21406 0 0 0.20882 458.544 70.482)" font-size="100"  fill="#000">O</text>
<text transform="matrix(0.16923 0 0 0.23000 474.892 71.070)" font-size="100"  fill="#000">)</text>
<text transform="matrix(0.19926 0 0 0.19706 507.801 70.506)" font-size="100"  fill="#000">4.1889</text>
<text transform="matrix(0.17885 0 0 0.20000 418.163 93.300)" font-size="100"  fill="#000">L</text>
<text transform="matrix(0.15205 0 0 0.13636 428.792 96.264)" font-size="100"  fill="#000">IPM</text>
<text transform="matrix(0.16923 0 0 0.23000 458.523 93.770)" font-size="100"  fill="#000">(</text>
<text transform="matrix(0.13636 0 0 0.12941 464.973 87.041)" font-size="100"  fill="#000">16</text>
<text transform="matrix(0.21406 0 0 0.20882 479.044 93.182)" font-size="100"  fill="#000">O</text>
<text transform="matrix(0.16923 0 0 0.23000 495.192 93.770)" font-size="100"  fill="#000">)</text>
<text transform="matrix(0.19405 0 0 0.19706 528.112 93.206)" font-size="100"  fill="#000">4.4585</text>
<text transform="matrix(0.17885 0 0 0.20000 418.163 115.900)" font-size="100"  fill="#000">L</text>
<text transform="matrix(0.17333 0 0 0.12254 428.480 118.000)" font-size="100"  fill="#000">f</text>
<text transform="matrix(0.09535 0 0 0.09559 434.319 120.809)" font-size="100"  fill="#000">6</text>
<text transform="matrix(0.16923 0 0 0.23000 441.723 116.370)" font-size="100"  fill="#000">(</text>
<text transform="matrix(0.19552 0 0 0.20000 448.413 115.900)" font-size="100"  fill="#000">N</text>
<text transform="matrix(0.20964 0 0 0.19697 462.771 115.703)" font-size="100"  fill="#000">M</text>
<text transform="matrix(0.16923 0 0 0.23000 482.492 116.370)" font-size="100"  fill="#000">)</text>
<text transform="matrix(0.19228 0 0 0.19706 514.769 115.806)" font-size="100"  fill="#000">10.8272</text>
<text transform="matrix(0.23704 0 0 0.23768 308.626 491.300)" font-size="100" font-weight="bold" fill="#000">k</text>
<text transform="matrix(0.19444 0 0 0.16364 324.194 494.636)" font-size="100" font-style="italic" fill="#000" stroke="#000" stroke-width="3.91">D</text>
<text transform="matrix(0.40357 0 0 0.35821 347.500 496.084)" font-size="100"  fill="#000" stroke="#000" stroke-width="1.31">/</text>
<text transform="matrix(0.24615 0 0 0.27111 361.715 491.507)" font-size="100"  fill="#000" stroke="#000" stroke-width="1.93">(</text>
<text transform="matrix(0.27857 0 0 0.23582 371.186 491.064)" font-size="100" font-weight="bold" fill="#000">2</text>
<text transform="matrix(0.27292 0 0 0.23913 385.327 491.400)" font-size="100" font-weight="bold" font-style="italic" fill="#000">k</text>
<text transform="matrix(0.20000 0 0 0.16061 400.100 494.439)" font-size="100" font-style="italic" fill="#000" stroke="#000" stroke-width="3.88">F</text>
<text transform="matrix(0.24615 0 0 0.27111 413.762 491.507)" font-size="100"  fill="#000" stroke="#000" stroke-width="1.93">)</text>
<g transform="translate(18.6,311.2) rotate(-90)">
<g fill="none" stroke="#000" stroke-linecap="round" stroke-linejoin="round">
<path d="M9.6,-12.8 L5.3,0.6 Q4.8,1.6 3.4,1.2" stroke-width="2.8"/>
<path d="M0.4,-10.8 Q1.2,-14.6 6,-14.4 Q9.2,-14.2 9.6,-12.6" stroke-width="1.7"/>
<path d="M8.2,-14.4 C13,-15.8 19.4,-15.4 19.0,-10.6 C18.6,-6.6 14,-4.8 9.2,-6.3" stroke-width="2.6"/>
<path d="M25.4,-6.2 L21.5,2.8" stroke-width="2.1"/>
<path d="M20.1,-4.0 Q21,-6.9 25.4,-6.5" stroke-width="1.3"/>
<path d="M24.6,-6.6 C29,-7.6 32.4,-5 32.0,-1.2 C31.5,2.8 27,4.6 21.6,3.0" stroke-width="2.0"/>
</g>
<text transform="matrix(0.25385 0 0 0.26333 35.185 0.770)" font-size="100"  fill="#000" stroke="#000" stroke-width="1.16">(</text>
<text transform="matrix(0.27222 0 0 0.22754 43.456 0.100)" font-size="100" font-weight="bold" fill="#000">k</text>
<text transform="matrix(0.19583 0 0 0.18333 60.096 4.517)" font-size="100" font-style="italic" fill="#000" stroke="#000" stroke-width="3.69">D</text>
<text transform="matrix(0.25000 0 0 0.26333 76.750 0.770)" font-size="100"  fill="#000" stroke="#000" stroke-width="1.17">)</text>
<text transform="matrix(0.38571 0 0 0.35373 87.500 5.593)" font-size="100"  fill="#000" stroke="#000" stroke-width="1.35">/</text>
<text transform="matrix(0.28209 0 0 0.26061 100.910 0.600)" font-size="100" font-weight="bold" font-style="italic" fill="#000">A</text>
<text transform="matrix(0.15652 0 0 0.28313 127.904 2.419)" font-size="100"  fill="#000" stroke="#000" stroke-width="1.82">[</text>
<text transform="matrix(0.27009 0 0 0.23380 133.590 0.700)" font-size="100"  fill="#000" stroke="#000" stroke-width="1.39">fm</text>
<text transform="matrix(0.19268 0 0 0.11940 164.137 -9.719)" font-size="100"  fill="#000" stroke="#000" stroke-width="1.92">3</text>
<text transform="matrix(0.17727 0 0 0.28313 173.791 2.419)" font-size="100"  fill="#000" stroke="#000" stroke-width="1.74">]</text>
</g>
</g>
</svg>
</body></html>
